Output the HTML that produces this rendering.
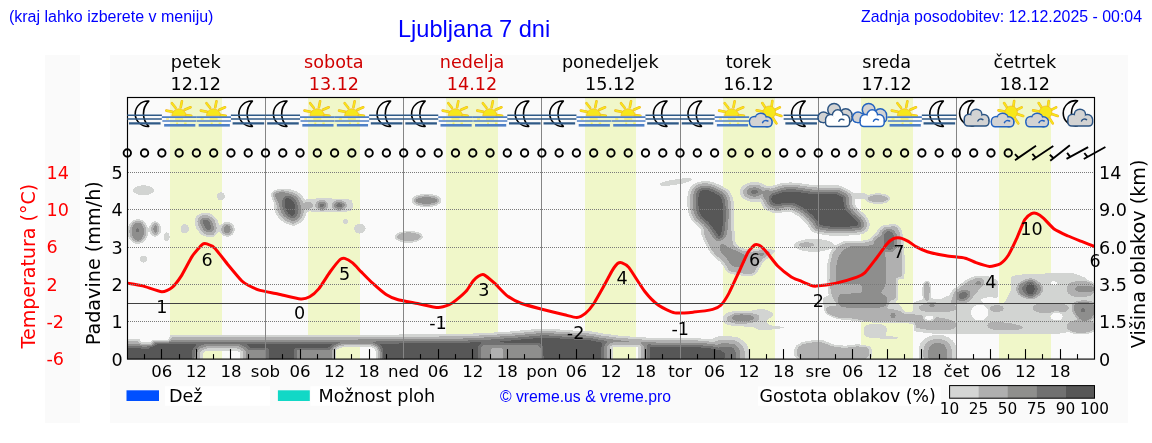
<!DOCTYPE html>
<html><head><meta charset="utf-8"><title>Ljubljana 7 dni</title>
<style>
html,body{margin:0;padding:0;background:#fff;}
body{width:1152px;height:443px;overflow:hidden;position:relative;}
.t{position:absolute;white-space:nowrap;color:#0000ff;font-family:'Liberation Sans',Arial,sans-serif;line-height:1;}
svg{position:absolute;left:0;top:0;}
</style></head><body>
<svg width="1152" height="443" viewBox="0 0 1152 443">
<rect x="45" y="55" width="35" height="368" fill="#fafafa"/>
<rect x="110" y="55" width="1018" height="368" fill="#fafafa"/>
<rect x="170" y="97.5" width="52" height="261.6" fill="#f0f7c9"/>
<rect x="308" y="97.5" width="52" height="261.6" fill="#f0f7c9"/>
<rect x="446" y="97.5" width="52" height="261.6" fill="#f0f7c9"/>
<rect x="585" y="97.5" width="51" height="261.6" fill="#f0f7c9"/>
<rect x="723" y="97.5" width="52" height="261.6" fill="#f0f7c9"/>
<rect x="861" y="97.5" width="52" height="261.6" fill="#f0f7c9"/>
<rect x="999" y="97.5" width="52" height="261.6" fill="#f0f7c9"/>
<defs><clipPath id="cc"><rect x="127.5" y="97.5" width="967" height="261.6"/></clipPath></defs><g clip-path="url(#cc)" shape-rendering="crispEdges"><path fill-rule="evenodd" fill="#d2d4d2" d="M665.3 186.0L660.7 185.6L659.8 185.0L659.6 184.3L660.4 183.3L662.3 182.4L668.7 180.5L671.2 180.0L683.3 178.3L689.7 178.3L691.3 178.7L692.1 179.3L691.8 180.3L690.3 181.2L682.7 183.6L669.7 185.6L665.3 186.0ZM750.7 276.4L747.7 276.4L735.0 274.7L730.0 273.4L727.7 272.3L725.5 270.3L723.4 266.0L721.7 263.7L719.1 261.0L713.7 256.7L709.9 252.0L707.8 248.7L705.9 245.3L701.5 235.0L700.7 232.7L700.8 230.0L700.5 229.0L699.1 227.3L693.7 222.7L692.2 221.0L689.5 216.3L688.0 212.0L687.1 202.7L687.2 198.0L688.0 192.7L688.8 190.0L690.0 187.9L692.3 185.4L694.3 183.8L698.3 182.0L702.7 181.2L706.7 181.1L711.3 181.7L717.0 183.7L723.3 186.8L727.7 189.5L729.7 191.7L732.5 197.3L733.7 202.0L734.2 211.3L734.2 217.0L733.6 228.7L734.7 232.0L734.5 236.3L735.4 241.7L736.2 244.0L738.0 245.8L739.3 246.8L742.7 248.3L746.0 249.1L751.3 249.5L759.0 248.3L763.0 248.2L772.7 249.6L774.0 250.0L774.7 250.7L774.6 251.7L774.0 252.6L770.9 255.0L768.4 258.0L765.0 260.2L763.2 262.3L756.0 274.1L754.0 275.3L750.7 276.4ZM852.0 235.3L848.3 235.6L829.3 235.6L817.7 233.8L814.7 233.0L812.3 231.7L810.7 230.3L807.4 225.0L804.3 221.4L800.7 218.1L797.4 215.7L792.5 212.7L790.0 211.8L787.7 211.6L785.3 211.8L778.0 213.2L775.7 213.2L773.3 212.8L767.7 210.8L765.0 209.2L763.3 207.3L760.7 202.7L760.0 201.9L759.0 201.6L755.3 202.1L752.3 202.0L748.3 201.2L745.0 199.7L742.2 197.7L740.6 195.3L739.9 192.3L740.3 189.3L742.2 186.3L745.0 184.3L748.3 182.8L752.7 181.9L755.7 181.9L759.7 182.6L762.3 183.6L766.0 185.7L770.7 186.3L781.0 183.3L789.7 182.4L797.0 182.8L812.3 185.0L818.3 185.4L838.7 185.5L842.0 186.5L849.0 189.9L850.7 191.0L853.7 193.4L858.0 193.0L862.3 193.0L864.7 193.5L868.3 194.9L873.3 193.6L878.7 193.2L882.3 193.6L885.0 194.2L887.6 195.3L889.1 196.3L890.0 197.5L890.3 198.7L889.9 200.0L889.0 201.1L886.0 202.8L880.0 204.1L875.0 204.1L869.3 202.7L867.0 201.3L865.0 199.0L864.3 198.6L856.0 198.7L855.0 199.0L854.6 200.0L854.6 202.0L855.4 205.3L856.3 206.6L859.3 209.7L865.0 214.7L866.9 217.0L868.4 219.3L869.2 221.3L869.5 223.3L869.5 226.0L869.1 228.0L868.1 230.0L866.6 231.7L864.7 233.0L862.7 233.9L860.7 234.4L852.0 235.3ZM143.3 195.3L138.4 194.7L135.0 193.1L133.6 192.0L132.9 191.0L132.8 190.0L133.2 189.0L134.3 187.8L136.3 186.7L139.7 185.7L142.3 185.3L146.0 185.4L149.7 186.3L151.9 187.3L153.4 188.7L153.9 190.0L153.8 191.0L153.3 192.0L152.0 193.1L148.0 194.8L143.3 195.3ZM294.3 225.7L293.3 225.8L292.0 225.6L287.3 224.1L284.3 222.7L280.7 220.0L278.4 217.7L277.0 215.6L275.3 212.3L274.4 210.0L273.9 207.3L273.6 202.7L271.9 198.3L271.3 196.0L271.2 194.3L271.5 193.0L272.3 191.9L273.7 190.9L276.3 189.6L281.3 188.8L288.7 189.1L293.0 189.9L296.4 191.3L299.5 193.3L302.6 196.3L304.3 199.0L305.3 199.6L319.7 198.2L329.0 198.3L332.7 198.6L340.3 198.5L346.7 199.1L350.2 199.7L351.4 200.3L352.3 201.9L353.0 205.0L352.7 207.7L351.7 210.0L351.0 210.7L350.0 211.0L346.7 211.6L340.3 212.2L332.3 212.0L323.0 212.4L318.3 212.4L309.7 211.4L307.3 211.7L306.7 212.3L305.2 217.3L303.0 220.6L300.0 223.2L294.3 225.7ZM221.7 200.4L220.3 200.5L218.7 199.8L217.6 198.7L217.0 197.3L217.0 195.3L217.6 194.0L218.7 192.9L220.3 192.2L221.7 192.2L223.2 193.0L224.3 194.3L224.7 195.7L224.7 197.3L224.1 198.7L223.0 199.8L221.7 200.4ZM428.3 207.4L424.3 207.4L418.0 206.2L415.7 205.3L413.3 203.9L412.0 202.3L411.5 200.7L411.8 199.0L413.4 197.0L416.7 195.2L420.3 194.4L426.0 193.5L428.7 193.7L435.7 195.0L438.7 196.5L440.7 198.3L441.4 199.7L441.4 201.3L440.7 202.7L439.3 204.0L435.7 206.0L428.3 207.4ZM212.7 237.1L210.7 237.3L207.0 236.9L203.3 235.9L201.8 235.0L200.3 233.7L197.3 230.0L196.0 227.7L195.2 225.7L194.7 223.3L194.6 221.0L194.8 219.3L195.5 217.7L196.7 216.0L198.0 214.9L200.3 213.7L203.0 213.1L207.0 213.0L209.7 213.4L213.0 215.2L216.0 218.0L217.5 220.3L219.0 224.4L219.7 225.3L224.0 222.6L227.0 221.9L229.3 222.2L230.7 222.7L232.3 223.8L233.5 225.3L234.7 228.3L234.6 230.7L233.1 234.0L231.0 235.8L229.7 236.4L227.7 236.7L224.7 236.4L222.0 234.9L219.7 232.3L219.0 232.0L215.3 235.7L212.7 237.1ZM346.3 224.1L345.3 224.3L344.2 224.0L343.4 223.3L342.8 222.3L342.7 221.3L343.0 220.2L343.7 219.3L344.7 218.7L345.7 218.6L346.7 219.0L347.4 219.7L347.8 220.7L348.0 221.7L347.7 222.7L347.0 223.7L346.3 224.1ZM140.0 243.7L136.0 243.8L133.0 242.5L130.3 240.0L128.5 236.7L127.5 232.7L127.5 229.0L128.5 226.0L130.9 222.3L133.3 220.3L136.3 219.4L138.3 219.2L141.3 219.9L143.0 220.7L144.7 222.2L146.0 224.0L148.0 227.4L148.7 227.9L151.3 223.3L153.3 221.8L154.7 221.3L156.0 221.4L158.7 222.9L160.3 225.0L161.1 227.7L161.0 231.3L160.4 233.0L159.5 234.3L158.0 235.7L156.7 236.4L155.3 236.7L154.3 236.6L152.9 236.0L151.7 235.1L149.0 231.5L148.7 231.7L147.2 236.7L145.4 240.0L143.0 242.3L140.0 243.7ZM361.3 233.4L359.3 233.6L357.0 232.9L355.3 231.7L354.3 230.0L354.1 228.3L354.7 226.3L356.0 225.0L358.0 223.9L360.0 223.7L362.0 224.1L364.1 225.3L365.3 227.1L365.6 229.0L365.0 230.9L363.7 232.3L361.3 233.4ZM185.7 233.4L184.0 233.5L182.3 232.7L181.1 231.3L180.5 229.7L180.5 228.0L181.3 226.0L182.3 224.9L184.0 224.2L185.7 224.2L187.0 224.9L188.0 226.0L188.7 227.7L188.8 229.7L188.3 231.1L187.3 232.5L185.7 233.4ZM1084.7 334.4L1077.0 334.4L1072.0 333.4L1069.0 332.3L1067.7 332.1L1057.3 334.1L956.7 334.1L952.0 333.8L943.3 334.2L935.3 334.1L931.1 333.3L924.0 332.7L917.0 331.7L915.0 331.2L914.3 330.7L913.9 330.0L913.6 324.7L913.2 324.0L912.3 323.6L881.0 322.6L874.3 322.8L870.3 322.2L862.3 322.0L848.0 320.1L842.7 319.8L837.7 319.0L833.0 317.6L827.7 315.1L824.9 312.3L824.1 310.0L823.9 307.3L822.9 301.3L823.1 299.3L823.7 298.0L825.0 297.0L828.1 295.7L828.6 295.0L826.9 281.3L826.9 265.7L829.6 254.0L831.7 250.0L831.9 249.0L831.3 248.9L824.0 250.9L818.7 251.7L809.0 251.7L804.0 250.9L799.7 249.9L797.7 249.2L796.0 248.2L794.6 247.0L794.1 246.0L794.1 244.7L794.6 243.7L795.7 242.7L798.9 241.0L804.2 239.7L809.7 238.9L818.0 238.9L824.3 239.8L828.3 240.9L830.7 241.9L832.4 243.0L834.7 245.3L843.7 241.4L845.3 240.9L859.0 240.8L865.0 240.3L868.0 239.6L869.3 239.0L872.8 235.3L876.0 232.7L877.7 229.8L878.9 228.3L882.7 225.6L885.3 224.8L892.3 224.2L895.7 224.3L897.7 225.0L899.6 226.7L901.2 229.3L902.2 232.0L903.1 236.3L904.1 247.3L904.5 255.0L904.5 274.3L904.1 277.7L903.7 278.6L902.7 279.0L899.3 279.3L898.7 279.7L898.3 280.3L898.1 299.0L897.5 300.3L895.5 302.0L895.8 302.7L898.7 304.0L900.3 305.2L903.7 310.8L904.7 311.6L905.7 311.8L911.3 311.9L912.7 311.3L913.2 310.0L913.2 304.3L913.7 303.0L914.7 302.2L917.0 301.0L921.7 299.5L922.5 299.0L922.7 297.7L922.4 294.3L922.4 288.3L922.9 284.7L923.3 283.1L924.0 282.0L925.0 281.2L926.0 280.8L927.3 280.7L928.7 281.2L929.9 282.3L930.6 283.7L931.3 288.3L931.3 293.0L930.8 295.7L931.2 297.7L932.0 298.3L937.7 299.3L941.7 298.5L944.7 296.9L948.7 295.5L949.9 294.3L952.0 290.7L954.0 288.8L957.7 286.4L964.4 281.0L968.0 279.0L972.3 277.1L975.3 276.0L977.3 275.7L982.7 275.6L987.7 276.1L992.6 277.7L997.0 280.2L997.9 281.3L998.0 295.3L997.7 297.3L996.7 297.9L991.7 297.4L987.7 297.4L984.7 297.8L982.2 298.7L981.5 299.3L981.2 300.3L981.8 301.7L983.3 302.5L987.0 303.2L990.7 303.4L997.3 302.6L1003.3 302.7L1004.9 302.0L1010.8 290.0L1011.2 277.7L1012.0 276.6L1014.1 275.7L1020.0 274.6L1049.7 273.3L1072.0 273.2L1074.7 273.6L1083.3 276.8L1084.7 277.6L1086.8 279.7L1090.7 280.9L1093.0 282.2L1097.3 286.1L1098.2 287.3L1098.5 288.3L1098.2 290.7L1095.0 294.3L1094.5 296.0L1094.7 300.7L1097.2 303.7L1098.2 305.7L1098.6 307.3L1098.6 310.7L1098.0 313.0L1096.4 316.7L1094.1 320.3L1094.2 321.0L1096.6 324.3L1096.8 326.0L1096.7 328.0L1095.2 330.3L1093.0 332.0L1090.0 333.4L1084.7 334.4ZM412.3 242.7L405.3 242.7L402.0 242.1L398.7 240.9L396.6 239.7L395.3 238.3L394.9 237.0L395.2 235.3L396.3 233.9L399.0 232.3L404.0 231.2L408.3 230.5L410.7 230.6L418.0 232.1L420.0 233.0L421.7 234.3L422.5 235.7L422.7 237.0L422.3 238.2L421.4 239.3L418.7 241.0L415.3 242.1L412.3 242.7ZM167.0 241.4L165.9 241.3L164.9 240.7L164.0 239.0L163.7 237.3L163.7 235.7L164.5 233.7L165.3 232.7L166.3 232.2L167.3 232.4L168.5 233.3L169.3 234.7L169.7 236.3L169.6 238.0L169.0 239.6L168.0 240.9L167.0 241.4ZM144.7 262.4L143.3 262.6L142.0 262.4L140.8 261.7L140.0 260.6L139.7 259.3L139.9 258.0L140.7 256.8L141.8 256.0L143.3 255.7L145.0 255.9L146.0 256.7L147.0 258.0L147.2 259.3L147.0 260.3L146.0 261.6L144.7 262.4ZM1055.6 285.0L1056.5 284.3L1056.9 283.3L1056.6 282.3L1055.9 281.7L1054.7 281.2L1053.3 281.2L1052.3 281.5L1051.4 282.3L1051.2 283.7L1052.0 284.8L1053.7 285.3L1055.6 285.0ZM981.5 320.3L984.3 319.3L987.3 316.3L988.2 314.0L988.0 310.3L987.4 309.0L986.1 307.3L983.3 305.3L981.0 304.6L977.0 304.9L973.7 306.7L971.8 309.0L971.1 311.0L971.3 314.9L972.7 317.3L975.3 319.5L978.3 320.4L981.5 320.3ZM765.7 330.3L762.3 330.5L760.0 330.3L758.3 329.7L755.3 327.8L751.3 326.9L736.0 326.1L731.7 325.7L728.3 324.9L725.7 323.7L723.7 322.0L722.7 320.0L722.8 317.7L724.0 315.1L725.6 313.7L728.0 312.6L732.3 311.4L738.3 310.9L750.0 310.8L753.0 310.4L755.7 309.7L760.0 308.9L762.3 309.0L765.7 309.7L768.6 310.7L771.7 312.2L773.1 313.3L773.5 314.3L773.3 315.2L772.7 316.0L768.6 319.0L767.5 320.3L767.0 322.0L767.7 323.7L769.7 324.8L773.7 326.0L783.0 326.8L784.0 327.0L784.3 327.3L782.8 328.0L779.7 328.6L776.0 328.9L765.7 330.3ZM1057.7 320.3L1060.7 319.5L1062.3 318.0L1062.7 317.0L1062.6 316.0L1062.2 315.0L1061.4 314.3L1058.7 313.0L1055.0 312.9L1052.6 313.7L1050.6 315.3L1050.3 316.3L1050.4 317.3L1051.7 319.1L1054.7 320.3L1057.7 320.3ZM931.1 319.7L932.5 319.0L933.2 318.0L933.2 317.0L932.0 315.9L930.3 315.5L927.7 315.5L926.2 316.0L925.2 317.0L925.1 318.3L926.3 319.4L928.7 320.0L931.1 319.7ZM897.0 338.8L881.7 338.9L879.0 338.1L873.3 338.3L867.0 337.0L865.1 335.7L864.0 333.7L863.6 330.7L864.2 327.7L865.0 326.2L866.7 325.1L869.0 324.4L873.7 323.6L875.7 323.6L880.0 324.1L883.0 324.9L884.7 325.6L885.5 326.3L886.9 329.3L886.9 331.3L885.6 334.7L885.7 335.7L886.3 336.1L887.7 336.4L897.0 336.6L897.6 337.0L897.8 337.7L897.6 338.3L897.0 338.8ZM742.0 371.7L725.3 371.9L711.6 371.7L711.0 370.7L709.7 369.4L708.7 369.0L707.3 369.0L688.0 370.7L679.0 370.7L675.0 371.2L666.3 371.3L664.6 371.7L662.3 371.7L208.0 371.8L180.7 371.7L179.3 371.3L170.3 371.2L166.3 370.7L157.3 370.7L118.0 367.2L117.7 359.7L117.9 342.7L118.0 341.0L124.7 339.3L128.3 339.0L139.0 339.1L140.0 339.7L140.7 341.7L141.7 342.4L150.0 342.5L151.0 342.1L152.0 340.3L153.0 339.9L168.3 339.6L169.1 339.0L169.9 335.7L170.7 335.2L171.7 335.0L357.3 335.0L363.0 334.7L395.3 334.7L400.7 334.4L436.7 334.4L441.7 334.0L461.7 334.0L492.3 332.7L502.7 331.8L507.7 331.7L539.3 328.7L550.0 328.7L575.7 330.7L582.7 330.7L587.7 331.1L592.3 331.5L602.3 333.4L619.0 335.6L636.3 337.0L655.7 338.0L696.0 338.1L710.3 339.2L711.8 339.0L715.7 337.2L718.7 336.4L728.7 336.2L735.7 336.9L738.0 337.6L740.3 338.7L743.3 340.8L745.3 342.8L746.7 344.7L748.3 348.0L749.0 350.3L749.5 353.3L749.5 358.7L749.1 361.0L748.0 364.0L746.6 366.7L742.0 371.7ZM946.7 371.7L928.4 371.7L923.9 368.3L920.5 364.3L919.5 362.0L918.5 358.0L918.5 349.3L919.5 345.7L920.5 343.3L923.2 340.0L925.6 338.0L930.0 336.1L934.0 334.8L938.3 334.6L942.0 334.9L948.0 337.2L950.0 338.2L952.4 340.3L954.8 343.3L956.0 346.0L956.9 350.3L956.9 357.3L956.1 361.3L955.0 364.0L952.7 367.1L950.7 369.0L946.7 371.7ZM842.7 365.0L823.7 365.1L808.7 363.4L800.3 360.9L798.0 359.8L794.3 356.0L793.9 354.3L794.0 349.7L796.5 345.3L800.7 342.8L803.3 341.8L812.3 340.2L821.0 340.2L823.7 340.5L825.3 340.9L828.0 342.3L832.3 344.0L835.3 344.7L838.7 345.1L845.7 345.7L854.0 344.8L859.0 343.7L859.7 343.8L860.7 345.0L861.4 345.3L868.3 345.6L869.6 346.0L870.3 346.7L872.0 350.3L872.1 355.7L871.3 357.0L867.4 360.3L865.3 361.2L857.3 363.3L842.7 365.0ZM375.3 366.3L375.9 365.7L376.1 364.7L376.0 351.8L374.6 349.0L373.7 348.3L371.5 347.3L368.7 346.8L345.0 346.9L339.3 348.2L336.6 350.0L335.7 351.3L335.5 364.7L335.7 365.7L336.4 366.3L340.0 366.6L373.3 366.6L375.3 366.3ZM636.5 367.0L637.9 366.3L638.3 365.0L638.4 349.3L638.1 348.0L637.7 347.4L635.7 346.9L615.7 346.9L614.0 347.1L613.1 347.7L612.6 349.3L612.6 364.3L612.8 365.7L613.3 366.6L615.3 367.1L636.5 367.0ZM238.5 367.0L239.7 366.6L240.3 365.3L240.3 354.0L240.1 353.0L239.7 352.3L237.1 351.0L234.7 350.6L208.7 350.6L207.0 350.9L204.7 351.8L203.7 352.3L203.2 353.0L203.0 354.7L203.0 365.0L203.2 366.0L204.0 366.8L206.0 367.1L238.5 367.0Z"/>
<path fill-rule="evenodd" fill="#b0b0b0" d="M750.7 274.1L748.3 274.2L736.0 272.6L731.7 271.6L729.3 270.5L727.8 269.0L725.8 265.0L724.2 262.7L721.0 259.4L715.9 255.3L712.4 251.0L710.3 247.9L708.6 244.7L704.0 234.0L703.5 232.0L703.8 229.7L703.6 228.7L701.4 226.0L694.8 220.0L692.3 216.0L690.9 212.0L689.9 203.3L690.0 198.3L690.5 194.0L691.2 191.3L692.2 189.3L694.0 187.3L696.0 185.7L699.3 184.1L703.0 183.4L706.7 183.3L710.7 183.9L715.7 185.7L721.8 188.7L725.5 191.0L727.4 193.0L730.0 198.3L730.9 202.7L731.4 217.0L730.7 229.3L731.9 232.3L731.9 237.0L732.6 241.7L733.5 244.7L735.0 246.5L738.0 248.8L741.7 250.5L743.3 250.9L748.3 251.6L752.0 251.6L759.3 250.5L762.3 250.4L768.3 251.3L769.8 252.0L769.6 252.7L766.7 256.1L763.3 258.4L760.5 261.7L754.0 272.4L752.7 273.3L750.7 274.1ZM849.3 233.4L829.3 233.3L818.3 231.6L816.0 231.0L814.1 230.0L812.7 228.7L809.9 224.0L806.7 220.1L802.0 216.0L798.3 213.3L795.1 211.3L792.3 210.1L789.7 209.4L785.7 209.5L779.0 210.8L776.7 211.0L774.0 210.6L769.3 209.0L767.3 207.9L765.8 206.3L762.3 199.7L761.3 198.5L760.3 198.4L755.7 199.4L753.7 199.5L749.0 198.5L745.6 196.7L744.3 195.3L743.4 193.7L743.1 192.0L743.5 190.3L744.9 188.0L747.3 186.3L750.0 185.2L754.3 184.5L759.3 185.4L764.3 187.9L768.0 188.1L771.0 188.6L781.3 185.6L789.0 184.7L796.7 185.1L812.0 187.2L818.3 187.6L836.7 187.6L838.7 187.8L840.7 188.5L848.0 192.1L850.3 194.1L851.1 195.3L851.6 196.7L851.8 203.0L853.0 206.7L857.4 211.3L863.4 216.7L865.7 220.0L866.6 222.3L866.7 225.7L866.3 227.7L865.0 229.7L863.3 231.0L860.0 232.2L849.3 233.4ZM294.0 223.8L293.3 224.0L292.3 223.8L285.3 220.5L282.0 217.8L279.5 214.7L277.4 210.3L276.7 207.7L276.4 203.7L273.9 198.3L273.2 196.0L273.1 194.7L273.3 193.7L274.0 192.8L275.0 192.1L277.4 191.0L282.7 190.3L292.3 192.1L295.7 193.7L298.7 195.9L300.7 198.2L303.3 202.7L304.0 202.7L307.0 201.8L309.0 201.7L311.3 202.5L312.8 204.0L313.1 205.3L312.9 206.3L312.3 207.3L311.0 208.3L308.3 209.0L305.0 208.5L304.3 208.7L303.8 209.7L303.3 214.7L301.7 218.2L299.0 220.9L295.5 222.7L294.0 223.8ZM426.7 206.0L419.3 204.9L416.3 203.8L414.7 202.7L413.8 201.7L413.5 200.7L413.8 199.3L415.0 198.0L417.7 196.6L426.3 195.0L435.0 196.5L437.7 197.9L439.2 199.3L439.5 200.3L439.2 201.7L438.3 202.7L436.3 203.9L433.7 204.9L426.7 206.0ZM880.0 202.4L875.7 202.4L870.7 201.2L868.3 199.9L867.7 199.0L867.7 198.3L868.7 197.2L871.2 196.0L873.8 195.3L877.7 195.0L881.7 195.3L884.0 195.9L886.7 197.0L887.8 198.0L888.0 198.7L887.8 199.3L886.2 200.7L884.3 201.4L880.0 202.4ZM323.0 210.7L320.7 210.7L318.6 210.0L316.5 208.3L315.4 206.7L315.2 205.0L315.7 203.3L317.3 201.5L319.3 200.3L322.0 199.9L325.0 200.5L327.1 202.0L328.3 204.0L328.5 206.0L327.4 208.3L325.3 210.0L323.0 210.7ZM340.0 210.7L337.3 210.5L335.3 209.9L333.0 208.3L331.9 206.7L331.7 205.0L332.2 203.3L333.5 202.0L335.7 200.6L339.0 200.0L342.3 200.4L345.3 202.1L346.8 204.0L347.0 205.0L346.9 206.3L345.7 208.3L343.0 210.0L340.0 210.7ZM212.3 235.4L210.3 235.4L206.3 234.5L204.3 233.7L202.2 232.0L199.8 229.0L198.0 225.3L197.4 221.7L197.6 220.0L198.0 218.7L199.7 216.7L201.3 215.8L203.3 215.3L208.0 215.4L209.7 216.0L211.3 217.0L214.3 220.0L215.3 222.1L216.2 225.0L216.5 227.0L216.5 229.3L216.0 231.0L214.6 233.3L213.5 234.7L212.3 235.4ZM138.7 242.3L135.7 242.0L134.0 241.2L132.6 240.0L131.4 238.3L130.2 236.0L129.4 232.0L129.4 230.0L130.0 227.7L132.0 223.7L134.3 221.7L137.7 220.8L141.0 221.5L142.3 222.3L143.3 223.3L145.5 227.0L146.3 231.0L146.2 233.0L145.7 235.3L144.0 238.8L141.7 241.2L140.0 242.0L138.7 242.3ZM156.3 234.7L154.7 234.9L153.1 234.0L151.9 232.0L151.1 229.3L151.3 227.7L152.6 224.7L153.7 223.5L155.0 223.0L156.4 223.3L158.0 224.7L158.9 226.3L159.3 228.0L159.2 230.3L158.8 232.0L157.7 233.7L156.3 234.7ZM228.3 235.0L226.0 235.1L224.0 234.2L222.6 233.0L221.5 230.7L221.4 228.3L222.4 226.0L223.7 224.7L226.0 223.6L228.3 223.6L230.6 224.7L231.8 226.0L232.8 228.7L232.8 230.3L231.6 233.0L230.1 234.3L228.3 235.0ZM949.0 330.1L934.0 330.1L925.0 329.4L917.3 328.1L916.3 327.8L915.7 327.0L915.4 324.0L914.9 323.0L914.0 322.3L913.0 322.0L862.7 320.5L854.3 318.8L848.0 318.1L842.7 318.0L838.7 317.6L833.0 316.0L829.0 314.0L827.1 312.3L826.2 311.0L826.0 309.3L826.7 307.8L827.7 307.0L830.3 306.1L835.7 305.6L836.2 305.3L836.4 304.7L835.7 302.3L833.3 299.1L831.0 292.7L829.5 280.7L829.6 265.7L832.2 255.0L833.3 252.7L837.4 247.0L839.0 246.0L844.3 243.6L847.0 243.0L859.7 243.0L865.0 242.6L870.3 241.3L871.6 240.7L874.8 237.0L878.3 234.2L880.6 230.3L883.9 227.7L886.0 227.0L893.0 226.3L895.0 226.5L896.3 227.1L897.9 228.7L899.2 231.3L900.1 234.7L900.8 239.7L901.8 255.7L901.8 274.7L901.4 276.0L901.0 276.6L897.3 277.7L896.3 278.6L895.8 279.7L895.7 296.7L895.4 298.3L894.3 299.3L890.7 300.6L889.8 301.3L888.7 304.7L887.2 307.3L887.2 308.0L888.3 308.5L893.3 309.4L899.7 311.0L901.0 311.6L903.0 313.3L904.3 313.8L912.7 314.1L922.3 315.6L923.2 316.3L923.2 318.3L923.9 319.7L925.3 320.8L927.3 321.4L930.0 321.5L932.7 320.8L934.2 319.7L935.6 317.7L936.3 317.3L941.0 317.7L949.3 319.6L952.9 321.0L954.3 321.9L956.0 323.7L956.4 325.3L956.0 326.9L954.3 328.4L949.0 330.1ZM412.3 241.0L406.7 241.2L402.3 240.4L399.5 239.3L398.0 238.4L397.1 237.3L397.0 236.3L397.9 235.0L399.7 233.9L403.3 233.0L408.7 232.1L417.3 233.7L419.0 234.4L420.3 235.7L420.6 236.7L420.5 237.3L419.3 238.7L417.3 239.7L412.3 241.0ZM808.0 247.3L804.7 247.3L800.7 246.4L798.9 245.7L798.4 244.7L799.0 244.0L800.5 243.3L804.0 242.4L806.3 242.3L808.7 242.4L812.3 243.3L813.7 244.0L814.2 244.7L814.1 245.3L813.0 246.1L808.0 247.3ZM942.3 312.0L934.3 312.1L925.0 311.5L921.7 310.7L920.3 310.0L919.1 308.7L919.0 307.3L919.5 306.3L921.0 305.2L925.7 303.9L928.0 302.1L929.3 301.8L934.0 301.8L938.3 303.4L944.3 303.8L950.3 303.7L950.8 303.0L951.1 300.7L952.4 297.3L953.1 294.3L954.3 292.0L955.7 290.6L959.3 288.2L964.8 283.7L969.3 281.0L976.3 278.1L978.7 277.8L980.7 278.0L982.3 278.6L983.2 279.3L984.3 282.7L984.2 284.0L983.7 285.0L980.3 288.0L976.3 293.3L973.3 296.4L971.6 299.0L970.0 300.7L967.7 302.1L965.0 303.1L955.7 304.5L955.2 305.0L956.3 307.0L956.4 308.3L955.7 309.5L954.0 310.6L949.0 311.7L942.3 312.0ZM1032.7 299.3L1029.0 299.5L1024.7 298.2L1021.0 296.7L1018.2 294.3L1016.8 292.0L1016.2 290.0L1016.1 288.7L1017.1 285.3L1019.0 282.8L1023.0 280.5L1027.0 278.9L1028.7 278.5L1031.3 278.4L1033.3 278.7L1035.3 279.6L1039.7 282.5L1040.8 283.7L1042.3 286.0L1043.0 287.7L1043.0 290.3L1042.2 292.3L1040.5 294.7L1038.7 296.2L1035.3 298.4L1032.7 299.3ZM1084.3 297.0L1078.3 297.1L1073.7 296.4L1071.7 295.8L1069.0 294.2L1067.6 292.3L1066.9 290.0L1067.0 287.0L1068.3 284.5L1069.7 283.3L1072.0 282.1L1079.0 280.8L1083.7 280.9L1088.9 282.0L1090.6 282.7L1092.7 283.9L1096.4 287.7L1096.7 289.3L1096.2 290.7L1092.7 294.1L1090.7 295.5L1089.0 296.1L1084.3 297.0ZM927.7 301.1L926.3 301.0L925.1 299.7L924.5 297.7L924.0 294.3L924.0 288.3L924.5 284.7L925.3 282.9L926.7 282.2L927.7 282.4L928.7 283.4L929.2 285.0L929.7 288.3L929.6 292.3L928.9 295.3L929.1 298.3L928.5 300.0L927.7 301.1ZM1085.3 332.7L1083.0 333.0L1078.3 333.0L1072.3 331.9L1068.5 330.0L1067.6 329.0L1067.0 327.7L1067.1 324.7L1068.7 322.4L1071.7 320.8L1076.0 320.1L1077.0 319.3L1076.8 318.3L1073.9 314.3L1072.5 311.7L1071.9 309.3L1071.8 307.0L1072.1 305.0L1073.3 303.0L1075.0 301.8L1077.3 300.9L1082.3 300.4L1086.0 300.4L1091.3 301.2L1092.7 301.8L1095.0 303.6L1096.6 306.7L1096.8 310.3L1096.1 313.0L1094.3 316.7L1091.3 320.7L1091.5 321.3L1093.5 323.0L1094.7 324.7L1095.0 326.3L1094.7 328.0L1093.3 329.9L1091.5 331.0L1089.3 331.9L1085.3 332.7ZM1049.3 313.4L1047.3 313.5L1040.0 312.7L1035.3 311.4L1034.0 310.5L1033.2 309.3L1032.9 308.0L1033.2 306.7L1033.9 305.7L1035.0 304.8L1039.7 303.3L1047.7 302.9L1053.3 302.8L1062.3 303.4L1066.3 304.8L1068.0 306.0L1068.6 307.0L1068.8 308.3L1068.3 309.6L1066.7 311.0L1065.3 311.7L1062.3 312.4L1058.7 311.3L1054.3 311.3L1052.7 311.8L1049.3 313.4ZM998.3 312.0L995.3 312.1L991.3 310.9L990.4 310.0L990.0 309.0L990.0 308.0L990.4 307.0L991.0 306.3L992.3 305.7L996.3 305.2L1000.7 305.6L1002.7 306.5L1003.4 307.3L1003.7 308.3L1003.2 310.0L1001.7 311.1L998.3 312.0ZM746.3 323.7L736.7 323.8L732.3 323.0L729.3 322.1L727.7 321.2L726.6 320.0L726.6 318.7L727.0 317.7L727.9 316.7L731.3 314.6L734.7 313.4L739.3 312.7L744.3 312.6L752.3 313.3L757.3 314.7L758.4 315.3L759.3 316.3L759.5 317.7L759.0 319.0L758.0 320.3L756.7 321.3L754.0 322.3L746.3 323.7ZM1008.7 330.4L1002.7 330.5L996.3 330.1L991.7 329.2L989.7 328.4L988.3 327.4L987.5 326.0L987.4 324.7L988.3 323.3L990.3 322.5L995.3 321.9L997.7 321.9L1009.7 323.1L1020.0 325.4L1021.7 326.1L1022.5 327.0L1022.5 327.7L1022.0 328.3L1019.0 329.7L1008.7 330.4ZM733.7 371.7L719.8 371.7L719.1 371.0L715.7 369.2L712.7 366.8L710.7 366.4L687.7 368.4L678.7 368.4L675.0 368.7L666.0 368.7L649.0 369.4L643.0 369.4L641.0 369.1L640.4 368.7L640.4 368.3L641.0 366.7L641.2 365.0L641.1 347.7L640.5 346.3L639.7 345.5L638.3 344.9L636.7 344.7L614.3 344.7L612.3 345.0L610.8 346.0L610.1 347.0L609.8 348.7L609.8 364.7L610.3 367.3L612.1 369.7L611.0 370.2L607.7 370.4L587.3 370.5L583.0 370.8L559.0 370.9L553.7 371.5L496.0 371.7L318.0 371.7L291.3 371.5L286.3 370.9L262.3 370.8L258.0 370.5L243.0 370.3L241.2 370.0L240.8 369.7L242.5 367.7L243.1 366.0L243.2 354.0L242.9 352.0L242.0 350.8L240.3 349.8L237.3 348.6L235.0 348.3L208.0 348.3L205.7 348.8L202.0 350.3L200.6 351.7L200.2 353.3L200.2 365.3L200.9 368.3L200.7 368.9L200.0 369.2L196.0 369.4L192.0 369.1L157.0 368.3L118.0 364.9L118.0 344.7L118.0 343.7L124.0 341.8L127.3 341.3L137.7 341.3L138.6 341.7L139.7 343.0L141.0 343.6L150.7 343.7L152.0 343.2L153.3 341.3L154.3 341.0L169.0 340.7L170.1 340.0L171.2 337.7L172.7 337.3L357.7 337.3L363.0 337.0L395.7 336.9L400.7 336.6L437.0 336.6L442.0 336.3L462.0 336.3L492.7 334.9L503.0 334.0L508.0 333.9L531.0 331.9L538.3 331.0L549.7 331.0L575.3 332.9L582.3 333.0L587.7 333.4L592.0 333.8L601.7 335.6L618.3 337.8L648.0 339.9L656.3 340.3L696.0 340.3L713.7 341.9L715.0 341.6L718.3 340.3L720.7 339.9L728.3 339.8L734.7 340.4L737.0 341.2L739.0 342.5L741.2 344.3L742.7 346.3L743.9 349.0L744.7 351.7L745.0 354.0L745.0 358.3L744.8 360.0L744.1 362.0L742.0 365.8L738.3 369.0L733.7 371.7ZM938.0 369.0L933.6 368.7L930.0 367.2L928.0 366.0L926.4 364.3L924.7 362.0L923.4 357.0L923.4 350.3L924.2 347.0L925.1 345.0L927.0 342.6L928.7 341.2L932.7 339.6L935.0 339.1L941.3 339.2L945.3 340.6L947.0 341.4L948.7 343.0L950.6 345.7L951.9 350.7L951.9 357.7L951.0 361.1L950.0 363.0L947.7 365.7L945.7 367.0L941.7 368.7L938.0 369.0ZM840.7 363.0L824.8 363.0L808.4 361.0L801.0 358.7L799.3 357.7L797.4 355.7L796.7 354.7L796.5 353.0L796.7 350.3L798.7 346.8L802.3 344.5L805.3 343.7L813.7 342.3L820.7 342.3L823.4 342.7L831.0 345.8L835.3 346.9L845.3 347.9L858.3 346.2L861.0 347.0L867.0 347.3L868.0 348.0L868.7 349.1L869.4 351.3L869.3 355.0L868.0 356.7L865.4 358.7L856.3 361.2L840.7 363.0ZM376.0 368.0L377.3 367.2L378.0 365.7L378.0 352.0L377.5 350.3L376.5 348.3L375.5 347.3L374.0 346.6L371.0 345.4L369.3 345.2L345.0 345.2L338.7 346.6L335.1 349.0L334.0 350.3L333.6 352.3L333.7 365.3L334.2 367.0L335.3 367.9L338.3 368.2L373.7 368.2L376.0 368.0Z"/>
<path fill-rule="evenodd" fill="#8e8e8d" d="M720.3 241.0L718.7 241.1L717.0 240.8L715.7 240.2L714.3 239.1L706.3 227.6L703.7 224.6L697.3 219.0L695.5 216.3L694.2 213.7L693.5 210.7L692.8 203.7L692.8 198.7L693.4 194.0L694.2 191.3L695.3 189.6L697.4 187.7L700.0 186.3L703.7 185.6L706.7 185.6L710.3 186.2L715.0 187.9L720.5 190.7L724.0 193.0L725.3 194.7L727.2 198.7L728.2 203.3L728.6 212.0L728.6 218.0L727.8 228.7L726.6 234.7L725.5 237.3L723.3 239.7L720.3 241.0ZM850.0 231.0L829.7 231.1L817.3 229.0L816.0 228.3L815.0 227.3L812.5 223.0L808.8 218.7L803.4 214.0L799.8 211.3L796.3 209.3L793.7 208.1L790.3 207.2L785.3 207.2L777.0 208.8L775.0 208.5L771.3 207.3L769.4 206.3L768.1 205.0L764.3 198.3L762.3 194.0L761.7 194.0L759.3 195.5L757.7 196.2L754.7 196.7L752.7 196.5L750.0 195.8L747.7 194.3L746.7 192.7L746.9 191.0L747.7 189.7L749.3 188.5L751.0 187.8L753.7 187.3L756.0 187.5L759.0 188.3L760.7 189.4L762.7 191.6L765.3 190.3L766.7 190.0L771.7 191.0L782.0 187.8L789.0 186.9L796.3 187.3L811.7 189.5L818.0 189.8L836.3 189.9L839.3 190.4L846.0 193.7L848.0 195.3L848.8 197.3L849.1 203.7L850.4 207.7L855.5 213.0L861.0 217.9L862.8 220.3L863.7 222.3L863.9 224.7L863.7 226.7L863.0 228.0L861.7 229.2L859.3 230.0L850.0 231.0ZM293.0 221.4L292.3 221.3L288.7 219.6L286.3 218.2L283.7 215.8L282.0 213.6L280.0 209.3L279.0 204.0L276.3 198.9L275.5 196.7L275.3 194.7L275.6 194.0L276.5 193.3L278.7 192.5L283.0 192.0L291.3 194.2L293.3 195.1L295.3 196.3L297.3 198.2L298.5 199.7L299.9 202.7L300.5 205.3L300.9 209.3L300.6 214.0L299.7 216.3L298.1 218.3L296.7 219.5L293.0 221.4ZM428.3 204.0L425.7 204.2L418.7 202.9L416.3 201.6L415.8 200.7L415.9 200.0L416.9 199.0L419.0 198.0L426.3 196.7L434.0 198.0L436.0 199.0L437.0 200.0L437.1 200.7L436.8 201.3L435.0 202.6L433.0 203.2L428.3 204.0ZM322.3 209.0L320.7 208.9L319.4 208.3L318.2 207.3L317.5 206.0L317.5 204.7L318.2 203.3L319.4 202.3L321.0 201.7L322.7 201.7L324.3 202.3L325.7 203.4L326.4 205.0L326.2 206.3L325.3 207.6L324.0 208.6L322.3 209.0ZM340.3 209.0L337.3 208.8L334.9 207.3L333.8 205.7L333.9 204.7L334.5 203.7L336.7 202.2L339.0 201.6L341.6 202.0L343.8 203.3L344.9 205.0L344.4 206.7L342.3 208.3L340.3 209.0ZM211.0 232.3L208.3 232.5L206.0 231.9L204.3 230.5L202.3 228.0L200.9 225.3L200.2 222.3L200.5 220.0L201.7 218.3L204.0 217.5L207.3 217.6L209.4 218.7L211.7 221.0L213.0 224.0L213.7 226.7L213.8 228.3L213.5 229.7L213.0 230.7L212.0 231.8L211.0 232.3ZM139.3 240.4L138.0 240.6L136.7 240.5L135.6 240.0L134.3 239.0L132.3 235.8L131.5 232.3L131.5 230.7L131.9 228.3L133.3 225.3L135.0 223.4L137.3 222.6L139.9 223.0L141.6 224.3L143.4 227.3L144.2 230.7L144.0 233.6L143.0 236.5L141.3 239.0L139.3 240.4ZM155.7 232.7L155.0 232.7L154.3 232.3L153.7 231.0L153.2 229.3L153.4 228.0L154.0 226.3L154.7 225.4L155.3 225.2L156.0 225.5L156.6 226.3L157.2 228.7L156.8 231.3L155.7 232.7ZM227.3 233.4L226.0 233.2L224.7 232.3L223.8 231.0L223.5 229.7L223.7 228.0L224.4 226.7L225.6 225.7L227.0 225.3L228.3 225.5L229.5 226.3L230.3 227.7L230.7 229.3L230.3 231.0L229.7 232.2L228.7 233.0L227.3 233.4ZM873.7 308.4L851.7 308.4L842.7 307.1L840.7 306.4L839.7 305.7L838.4 303.0L837.9 300.3L837.9 298.3L838.2 297.0L840.3 294.2L841.0 293.8L842.3 293.6L860.7 293.4L861.3 293.0L861.7 292.0L861.7 286.3L861.3 285.0L860.0 284.4L839.0 284.4L837.0 284.0L836.3 283.0L835.9 281.0L835.8 268.7L836.1 266.3L838.3 257.0L842.3 250.9L843.7 249.5L849.3 246.8L851.0 246.2L865.3 246.1L872.0 245.0L873.5 244.0L874.7 241.0L876.2 239.0L878.3 237.2L881.0 236.0L882.2 232.7L883.9 230.7L885.3 229.7L886.7 229.2L891.0 229.2L893.0 230.0L894.7 231.2L896.5 234.3L896.8 236.3L896.8 244.3L896.0 248.0L895.0 249.7L893.7 251.1L892.3 251.8L890.3 252.2L886.0 251.9L885.4 252.3L885.2 253.0L885.8 261.3L885.5 265.0L885.5 271.7L886.4 277.3L886.4 280.0L886.0 282.7L885.0 285.7L881.2 293.0L881.7 293.8L884.7 295.1L887.1 297.0L887.5 299.0L887.0 302.7L886.0 305.1L884.3 306.5L880.7 307.4L873.7 308.4ZM738.7 267.4L735.7 267.3L733.7 266.5L732.3 265.6L729.3 262.3L726.3 258.2L721.6 253.0L720.3 250.7L719.7 248.0L719.8 246.0L720.7 244.6L722.0 244.2L724.0 244.6L730.5 248.3L738.0 251.4L742.1 253.3L744.7 255.3L745.5 256.7L745.8 258.3L745.5 260.7L744.8 262.7L743.7 264.3L742.3 265.7L740.7 266.7L738.7 267.4ZM762.3 255.7L760.3 255.7L759.1 255.3L758.4 254.7L758.3 253.7L759.1 253.0L760.3 252.6L762.3 252.6L763.6 253.0L764.4 253.7L764.3 254.6L763.5 255.3L762.3 255.7ZM1032.0 297.7L1029.3 297.8L1025.6 296.7L1022.3 295.3L1019.9 293.3L1018.7 291.2L1018.2 288.7L1019.1 286.0L1020.6 284.0L1024.0 282.0L1027.3 280.6L1029.0 280.2L1031.0 280.2L1032.7 280.4L1034.3 281.1L1039.1 284.7L1040.4 286.7L1041.0 288.3L1040.9 290.0L1040.3 291.7L1039.0 293.5L1037.3 294.9L1034.0 297.0L1032.0 297.7ZM979.3 285.1L977.3 285.1L976.0 284.5L975.3 283.3L975.7 282.1L976.7 281.4L978.0 281.1L979.3 281.2L980.7 281.8L981.3 282.7L981.3 283.7L980.7 284.5L979.3 285.1ZM1087.3 292.4L1083.3 292.4L1077.3 291.3L1076.0 290.7L1075.4 290.0L1075.1 289.3L1075.2 288.3L1076.3 287.0L1078.7 286.0L1085.0 285.5L1091.3 286.1L1093.3 287.0L1094.7 288.3L1094.7 289.7L1093.3 290.9L1091.3 291.6L1087.3 292.4ZM963.3 301.0L960.3 301.1L958.9 300.7L957.7 299.9L955.9 297.7L955.6 296.3L955.8 295.0L957.2 292.7L960.0 290.7L963.0 289.7L965.0 289.5L966.7 289.7L968.7 290.7L970.0 292.0L970.5 293.7L970.3 295.7L969.5 297.3L968.0 299.0L966.0 300.2L963.3 301.0ZM1086.3 320.7L1083.0 320.8L1081.0 319.9L1079.0 318.2L1075.5 313.3L1074.1 310.3L1073.6 307.0L1074.2 305.0L1075.7 303.5L1078.3 302.4L1083.0 302.0L1086.3 302.1L1091.3 303.0L1092.9 304.0L1094.0 305.2L1094.9 307.3L1095.0 309.7L1094.7 311.7L1093.7 314.2L1092.3 316.6L1091.0 318.2L1088.3 320.0L1086.3 320.7ZM933.3 306.7L932.0 306.9L930.3 306.7L929.3 306.0L929.2 305.0L929.8 304.3L930.7 304.0L932.3 303.9L933.7 304.2L934.3 304.7L934.6 305.3L934.3 306.0L933.3 306.7ZM893.3 318.4L892.3 318.3L891.3 317.8L890.4 316.0L890.5 315.0L891.0 314.0L891.7 313.3L892.7 313.0L893.7 313.0L894.7 313.5L895.3 314.3L895.7 315.3L895.6 316.3L895.1 317.3L894.3 318.1L893.3 318.4ZM744.3 321.3L740.0 321.4L734.7 320.5L732.7 319.3L732.1 318.3L732.1 317.3L733.0 316.2L735.0 315.2L741.3 314.3L751.7 315.6L753.2 316.3L754.0 317.3L754.1 318.3L753.8 319.0L752.3 320.0L749.7 320.7L744.3 321.3ZM498.3 369.3L380.0 369.3L379.3 369.1L379.1 368.7L379.8 365.0L379.8 352.7L379.4 350.3L378.1 347.7L376.7 346.2L372.3 344.3L370.0 343.8L345.0 343.7L339.0 344.9L336.7 345.9L333.3 348.3L332.0 350.3L331.7 352.3L331.7 364.7L332.3 368.3L331.7 368.9L329.7 369.1L319.3 369.1L315.0 368.8L291.0 368.8L286.7 368.5L262.3 368.5L258.7 368.1L247.0 368.0L246.3 367.6L246.0 366.7L246.0 353.7L245.5 351.0L244.2 349.3L242.3 348.1L238.3 346.4L235.7 346.1L207.7 346.1L205.0 346.6L200.6 348.3L198.5 350.0L197.5 352.0L197.3 365.7L196.8 366.7L196.0 367.0L157.7 366.1L118.0 362.6L118.0 346.6L121.7 344.9L125.3 343.8L127.3 343.5L137.0 343.5L140.3 344.6L143.0 344.9L151.0 344.7L152.7 344.2L154.3 342.3L155.3 341.8L169.0 341.6L170.3 341.2L172.3 339.7L173.3 339.5L358.3 339.5L363.3 339.2L396.0 339.2L401.0 338.9L437.3 338.9L442.0 338.5L462.7 338.5L493.3 337.1L503.3 336.2L508.3 336.1L539.7 333.2L549.3 333.2L575.0 335.1L582.3 335.2L591.0 335.9L601.0 337.8L615.0 339.8L628.4 341.3L629.3 341.7L627.7 342.0L613.0 342.5L610.3 343.3L608.5 344.7L607.6 346.0L607.1 347.7L607.0 366.7L606.7 367.6L605.9 368.0L587.0 368.2L582.7 368.5L558.7 368.5L554.0 368.8L530.3 368.8L525.7 369.1L501.7 369.0L498.3 369.3ZM730.3 368.4L726.0 368.6L723.2 368.3L719.0 366.7L715.7 364.1L713.7 363.9L687.7 366.1L653.0 366.8L649.0 367.1L645.0 366.9L644.3 366.3L644.0 365.3L643.9 347.3L643.1 345.3L640.9 343.0L640.7 342.4L644.3 341.9L655.7 342.5L695.7 342.5L711.3 343.9L716.3 344.7L717.7 344.5L720.0 343.6L721.7 343.4L727.7 343.4L733.7 344.0L735.3 344.7L737.3 346.3L738.3 347.5L739.3 349.3L740.4 353.3L740.4 358.7L739.3 362.0L737.7 364.4L734.7 366.7L730.3 368.4ZM939.7 365.0L935.7 365.0L931.7 363.3L929.4 360.7L928.3 357.0L928.2 351.3L929.3 347.2L930.7 345.3L931.7 344.4L935.7 343.0L939.7 343.0L943.7 344.4L945.9 347.0L947.0 350.7L947.1 356.3L946.0 360.5L943.7 363.3L939.7 365.0ZM502.1 367.0L503.0 366.3L503.4 364.7L503.4 350.7L503.0 349.1L502.3 348.5L501.0 348.2L493.3 348.2L491.7 348.5L490.8 349.3L490.6 350.7L490.6 364.3L491.0 366.3L491.7 366.9L493.0 367.1L500.7 367.2L502.1 367.0Z"/>
<path fill-rule="evenodd" fill="#717171" d="M719.7 238.7L718.0 238.6L716.3 237.4L709.7 227.7L706.0 223.3L699.9 218.0L698.2 215.7L696.9 213.0L696.3 210.3L695.6 203.3L695.6 199.0L696.0 195.0L696.6 192.7L697.5 191.0L699.0 189.5L701.0 188.5L704.0 187.8L706.7 187.9L710.0 188.5L714.0 190.0L718.7 192.4L721.7 194.3L723.0 196.0L724.5 199.3L725.4 203.7L725.8 212.0L725.4 225.7L724.2 232.7L723.4 235.3L721.8 237.7L719.7 238.7ZM850.3 228.7L847.7 228.9L830.3 228.9L818.7 227.0L817.3 226.0L814.8 221.7L811.0 217.3L806.2 213.0L799.0 208.0L795.7 206.3L791.0 205.0L785.0 205.0L777.3 206.5L776.0 206.3L773.3 205.5L771.3 204.6L770.2 203.3L768.5 199.7L768.7 197.7L770.3 194.7L771.7 193.6L782.3 190.1L788.7 189.2L795.7 189.5L811.0 191.7L817.3 192.1L835.7 192.1L838.0 192.5L844.0 195.4L845.6 196.7L846.1 198.3L846.3 204.0L847.8 208.7L853.6 214.7L858.5 219.0L860.0 221.0L860.9 222.7L861.0 225.7L860.6 226.7L859.9 227.3L858.3 227.8L850.3 228.7ZM756.0 193.7L754.0 193.9L752.0 193.5L750.7 192.7L750.6 191.7L751.3 190.8L753.0 190.3L754.7 190.1L756.7 190.5L757.9 191.3L758.1 192.3L757.3 193.2L756.0 193.7ZM294.0 218.1L292.7 218.2L291.0 218.0L287.9 216.3L285.0 213.3L283.1 209.7L282.2 206.3L282.3 200.3L283.3 197.7L285.0 196.3L286.7 195.9L288.0 195.9L290.3 196.3L291.9 197.0L293.7 198.2L295.2 199.7L297.0 202.7L298.1 208.0L297.9 213.0L297.3 214.9L296.5 216.3L295.3 217.4L294.0 218.1ZM322.7 207.1L321.0 207.1L319.8 206.0L319.8 204.7L320.7 203.8L322.3 203.5L323.3 203.9L324.0 204.6L324.0 206.0L322.7 207.1ZM340.7 207.1L339.0 207.3L337.3 206.8L336.3 205.9L336.3 204.8L337.3 203.9L338.7 203.4L340.0 203.4L341.3 203.9L342.3 204.7L342.4 205.7L342.0 206.3L340.7 207.1ZM210.0 230.0L208.7 230.3L207.1 229.7L204.4 226.3L203.5 224.3L203.0 222.0L203.2 220.7L203.9 220.0L205.3 219.6L206.7 219.8L208.0 220.7L209.5 222.3L210.3 224.3L211.1 227.7L210.9 229.0L210.0 230.0ZM138.0 232.4L136.8 232.0L136.0 230.7L136.5 229.0L137.7 228.3L138.9 228.7L139.6 230.0L139.2 231.7L138.0 232.4ZM891.0 249.7L888.7 249.9L886.5 249.0L885.0 247.0L884.0 244.0L883.9 237.3L884.3 234.7L885.4 232.7L886.7 231.7L887.7 231.3L890.0 231.4L891.7 232.1L893.0 233.4L894.0 235.7L894.1 243.3L893.9 245.7L892.7 248.3L892.0 249.1L891.0 249.7ZM1031.7 296.1L1030.3 296.2L1028.7 295.9L1025.0 293.9L1023.4 292.3L1022.3 289.7L1022.5 287.3L1023.9 285.0L1025.7 283.6L1028.0 282.2L1029.3 281.8L1032.0 281.9L1034.3 283.3L1036.6 285.7L1037.7 288.3L1037.5 290.3L1036.4 292.7L1033.7 295.2L1031.7 296.1ZM963.3 298.7L961.3 298.9L959.7 298.3L958.6 297.0L958.6 295.3L959.7 293.8L961.7 292.5L963.7 292.0L965.7 292.2L967.3 293.4L967.6 294.3L967.5 295.3L967.0 296.3L966.0 297.4L963.3 298.7ZM1084.3 312.4L1082.7 312.5L1081.8 312.0L1081.3 311.3L1081.3 309.7L1082.3 308.5L1084.0 308.4L1084.7 308.7L1085.3 309.5L1085.5 311.0L1085.0 311.9L1084.3 312.4ZM479.7 367.0L475.7 367.2L382.7 367.1L382.0 366.6L381.7 365.3L381.6 352.3L381.2 350.0L379.9 347.3L378.7 345.7L377.0 344.5L373.4 342.7L373.0 342.0L373.7 341.7L376.0 341.5L397.0 341.4L401.0 341.1L438.0 341.1L442.3 340.8L463.3 340.7L493.7 339.4L504.0 338.5L509.0 338.4L540.7 335.4L549.0 335.5L574.3 337.4L582.0 337.5L590.3 338.1L605.0 340.7L606.3 341.0L607.1 341.7L606.9 342.3L605.0 345.0L604.3 347.0L604.2 364.0L603.7 365.3L602.7 365.8L586.7 365.9L582.3 366.2L558.0 366.2L553.7 366.6L542.0 366.4L541.0 365.8L540.7 364.7L540.6 348.3L539.7 346.7L537.3 345.2L535.0 344.9L485.7 344.9L484.0 345.1L483.0 345.5L481.6 346.7L480.8 348.0L480.6 366.0L480.4 366.7L479.7 367.0ZM295.3 366.4L291.7 366.6L287.3 366.2L269.3 366.2L267.3 366.0L266.7 365.4L266.4 364.7L266.3 352.0L266.1 351.0L265.7 350.4L264.0 350.0L248.7 349.8L244.0 346.3L239.7 344.4L237.0 343.7L207.3 343.7L204.7 344.2L199.7 346.1L196.9 348.0L195.0 350.7L194.6 353.0L194.4 363.3L193.7 364.3L192.3 364.5L184.0 364.6L180.3 364.3L158.0 363.9L119.3 360.4L118.0 360.1L118.0 350.1L122.3 347.1L126.7 345.9L137.7 345.8L143.3 346.7L146.3 346.7L152.7 345.3L153.9 344.7L155.3 343.3L156.3 342.9L168.7 342.6L173.3 341.8L332.7 341.8L337.7 341.9L339.7 342.3L339.4 342.7L335.7 344.6L332.0 347.3L330.0 349.5L329.0 349.9L299.7 349.9L297.7 350.2L296.9 351.0L296.7 352.0L296.6 365.0L296.2 366.0L295.3 366.4ZM728.7 365.0L726.0 365.1L724.3 364.9L721.3 363.6L719.0 361.7L716.7 361.3L687.3 363.9L648.0 364.7L647.3 364.3L646.8 363.0L646.8 348.7L646.5 345.3L647.3 344.6L649.7 344.4L655.3 344.8L695.0 344.8L711.0 346.2L718.7 347.6L723.3 346.9L727.0 346.9L731.8 347.3L734.0 348.7L735.3 351.0L736.1 354.3L736.0 358.3L735.0 361.0L734.0 362.3L732.0 363.8L728.7 365.0Z"/>
<path fill-rule="evenodd" fill="#575757" d="M719.3 236.0L718.7 235.9L718.0 235.2L712.7 227.3L708.5 222.3L701.8 216.3L699.7 212.6L699.0 210.3L698.6 207.0L698.2 202.7L698.3 199.0L698.7 195.3L699.4 193.0L700.3 191.6L702.0 190.6L704.3 190.1L706.0 190.0L709.0 190.6L712.7 192.0L719.4 195.7L720.5 197.0L721.7 199.5L722.7 204.0L723.1 212.3L722.8 224.3L722.3 227.9L721.2 233.7L720.4 235.3L719.3 236.0ZM848.7 226.7L831.0 226.7L820.3 225.0L819.3 224.2L816.5 219.7L812.3 215.1L808.7 211.9L804.7 208.8L798.7 205.1L793.7 203.2L791.3 202.8L784.7 202.8L778.0 204.1L776.0 204.0L773.7 203.1L772.7 202.3L771.4 199.7L771.5 198.0L772.7 196.0L774.0 195.2L783.3 192.2L788.3 191.5L794.7 191.6L809.7 193.8L815.7 194.2L835.0 194.2L837.0 194.6L842.0 197.0L843.0 197.8L843.4 199.0L843.6 204.7L845.3 209.7L851.8 216.3L856.3 220.3L858.2 223.3L858.3 224.7L858.0 225.2L857.3 225.6L848.7 226.7ZM293.3 215.7L292.3 215.9L291.4 215.7L289.0 214.1L287.2 212.0L285.7 208.9L284.9 206.0L284.9 201.3L285.5 199.3L286.6 198.3L289.0 198.4L291.1 199.3L293.0 201.0L294.5 203.7L295.4 208.3L295.4 211.7L294.7 214.3L293.3 215.7ZM1031.3 294.4L1029.7 294.4L1028.3 293.7L1026.9 291.7L1026.2 289.7L1026.3 287.7L1027.1 285.7L1028.6 284.0L1030.0 283.4L1031.7 283.7L1033.0 284.6L1034.0 286.0L1034.5 287.7L1034.5 290.0L1034.0 291.7L1032.9 293.3L1031.3 294.4ZM554.7 364.3L545.7 364.4L544.3 364.1L543.8 363.7L543.6 362.3L543.4 347.7L542.9 346.3L542.0 345.3L540.0 343.7L538.7 343.0L536.0 342.6L504.3 342.5L496.8 342.0L504.7 340.7L509.7 340.6L525.7 339.0L532.7 338.5L539.3 337.6L547.3 337.6L573.7 339.5L581.3 339.6L589.7 340.3L600.7 342.3L601.7 342.7L602.3 343.3L601.4 348.0L601.3 362.0L601.1 363.0L600.7 363.4L599.0 363.7L585.7 363.8L582.0 364.1L557.3 364.1L554.7 364.3ZM476.3 365.0L384.7 365.0L383.8 364.3L383.6 363.3L383.4 350.7L382.8 349.0L380.4 344.3L381.0 343.8L382.7 343.6L397.7 343.6L402.0 343.2L439.0 343.2L443.0 342.9L464.0 342.9L475.3 342.2L481.0 342.4L481.5 342.7L481.4 343.0L478.7 346.0L477.9 347.7L477.7 363.3L477.3 364.6L476.3 365.0ZM190.0 362.4L158.7 361.7L124.0 358.7L121.2 358.3L120.3 357.9L119.9 357.0L119.9 354.7L120.8 351.7L121.8 350.3L124.0 349.0L127.7 348.0L137.7 347.9L142.3 348.8L147.3 348.9L149.0 348.5L150.7 347.3L153.7 346.3L156.0 344.8L158.5 344.3L167.7 344.2L172.7 343.9L193.0 343.9L195.7 344.2L196.2 344.7L196.1 345.0L193.4 348.0L192.1 350.7L191.7 353.0L191.6 361.0L191.1 362.0L190.0 362.4ZM292.3 364.3L288.0 364.1L271.7 364.1L270.0 363.8L269.5 363.3L269.3 362.3L269.2 351.0L268.7 349.7L267.9 348.7L266.7 348.0L265.0 347.6L250.3 347.5L248.9 346.7L247.1 344.7L247.3 344.3L248.3 344.0L251.0 343.9L328.7 343.9L331.0 344.0L331.9 344.3L331.8 345.0L330.9 346.0L329.3 347.2L328.3 347.5L299.0 347.6L296.0 348.1L294.7 349.1L293.9 350.7L293.7 363.0L293.3 363.9L292.3 364.3ZM662.0 362.3L651.7 362.4L650.7 362.3L650.0 361.9L649.6 360.3L649.6 349.0L649.7 347.7L650.2 347.0L651.3 346.7L654.7 346.9L694.3 346.9L710.0 348.3L720.7 350.5L724.5 353.0L725.1 353.7L725.4 354.7L725.2 357.7L724.7 358.2L723.7 358.5L686.7 361.7L677.0 361.8L673.7 362.1L664.3 362.1L662.0 362.3Z"/></g>
<path fill="none" stroke="#ff0000" stroke-width="3" stroke-linejoin="round" d="M127.2 283.2C128.74 283.47 139.14 285.04 142.6 285.9C146.06 286.76 158.87 291.62 161.8 291.8C164.73 291.98 169.98 289.24 171.9 287.7C173.82 286.16 178.96 279.56 181 276.4C183.04 273.24 190.16 259.3 192.3 256.1C194.44 252.9 200.94 245.62 202.4 244.4C203.86 243.18 205.66 243.52 206.9 243.9C208.14 244.28 212.65 246.07 214.8 248.2C216.95 250.33 225.69 261.92 228.4 265.2C231.11 268.48 239.87 278.97 241.9 281C243.93 283.03 246.89 284.56 248.7 285.5C250.51 286.44 257.07 289.55 260 290.4C262.93 291.25 273.94 293.14 278 294C282.06 294.86 297.43 298.72 300.6 299C303.77 299.28 307.89 297.81 309.7 296.8C311.51 295.79 316.67 291.38 318.7 288.9C320.73 286.42 327.86 274.94 330 272C332.14 269.06 338.63 260.86 340.1 259.5C341.57 258.14 343.45 258.06 344.7 258.4C345.95 258.74 350.94 261.55 352.6 262.9C354.26 264.25 359.3 269.87 361.3 271.9C363.3 273.93 370.12 280.94 372.6 283.2C375.08 285.46 383.62 292.87 386.1 294.5C388.58 296.13 394.24 298.6 397.4 299.5C400.56 300.4 413.63 302.69 417.7 303.5C421.77 304.31 434.94 307.48 438.1 307.6C441.26 307.72 447.5 305.44 449.3 304.7C451.1 303.96 454.4 301.56 456.1 300.2C457.8 298.84 464.6 293.02 466.3 291.1C468 289.18 471.86 282.51 473.1 281C474.34 279.49 477.64 276.64 478.7 276C479.76 275.36 482.12 273.88 483.7 274.6C485.28 275.32 492.18 281.1 494.5 283.2C496.82 285.3 504.19 293.57 506.9 295.6C509.61 297.63 518.1 302.14 521.6 303.5C525.1 304.86 537.61 308.07 541.9 309.2C546.19 310.33 561 313.97 564.5 314.8C568 315.63 574.81 317.64 576.9 317.5C578.99 317.36 583.74 314.75 585.4 313.4C587.06 312.05 591.6 306.84 593.5 304C595.4 301.16 602.5 288.39 604.4 285C606.3 281.61 611.15 272.27 612.5 270.1C613.85 267.93 616.95 264.03 617.9 263.3C618.85 262.57 620.91 262.39 622 262.8C623.09 263.21 626.5 264.5 628.8 267.4C631.1 270.3 642.03 288.01 645 291.8C647.97 295.59 655.52 303.19 658.5 305.3C661.48 307.41 671.27 312.22 674.8 312.9C678.33 313.58 690.01 312.45 693.8 312.1C697.59 311.75 710 310.08 712.7 309.4C715.4 308.72 719.17 306.93 720.8 305.3C722.43 303.67 727.1 296.62 729 293.1C730.9 289.58 737.91 274.16 739.8 270.1C741.69 266.04 746.41 255.02 747.9 252.5C749.39 249.98 753.48 245.58 754.7 244.9C755.92 244.22 758.88 244.94 760.1 245.7C761.32 246.46 765.14 250.47 766.9 252.5C768.66 254.53 775.26 263.56 777.7 266C780.14 268.44 789.07 275.43 791.3 276.9C793.53 278.37 798.05 279.86 800 280.7C801.95 281.54 809.18 284.76 810.8 285.3C812.42 285.84 813.76 286.29 816.2 286.1C818.64 285.91 831.13 284.29 835.2 283.4C839.27 282.51 853.92 278.28 856.9 277.2C859.88 276.12 863.11 274.42 865 272.6C866.89 270.78 873.63 261.84 875.8 259C877.97 256.16 884.94 246.23 886.7 244.2C888.46 242.17 892.05 239.33 893.4 238.7C894.75 238.07 898.71 237.63 900.2 237.9C901.69 238.17 906.68 240.5 908.3 241.4C909.92 242.3 914.5 245.87 916.4 246.9C918.3 247.93 924.32 250.81 927.3 251.7C930.28 252.59 942.41 255.15 946.2 255.8C949.99 256.45 962.22 257.52 965.2 258.2C968.18 258.88 973.57 261.78 976 262.6C978.43 263.42 987.06 266.29 989.5 266.4C991.94 266.51 998.5 264.84 1000.4 263.7C1002.3 262.56 1006.88 257.5 1008.5 255C1010.12 252.5 1014.98 242.22 1016.6 238.7C1018.22 235.18 1023.21 222.31 1024.7 219.8C1026.19 217.29 1030.28 214.22 1031.5 213.6C1032.72 212.98 1035.68 213.12 1036.9 213.6C1038.12 214.08 1041.94 216.83 1043.7 218.4C1045.46 219.97 1052.06 227.54 1054.5 229.3C1056.94 231.06 1065.39 234.79 1068.1 236C1070.81 237.21 1078.96 240.35 1081.6 241.4C1084.24 242.45 1093.21 245.99 1094.5 246.5"/>
<line x1="128" y1="321.5" x2="1094" y2="321.5" stroke="#7a7a7a" stroke-width="1" stroke-dasharray="1 1"/>
<line x1="128" y1="284.5" x2="1094" y2="284.5" stroke="#7a7a7a" stroke-width="1" stroke-dasharray="1 1"/>
<line x1="128" y1="247.5" x2="1094" y2="247.5" stroke="#7a7a7a" stroke-width="1" stroke-dasharray="1 1"/>
<line x1="128" y1="209.5" x2="1094" y2="209.5" stroke="#7a7a7a" stroke-width="1" stroke-dasharray="1 1"/>
<line x1="128" y1="172.5" x2="1094" y2="172.5" stroke="#7a7a7a" stroke-width="1" stroke-dasharray="1 1"/>
<line x1="265.5" y1="97.5" x2="265.5" y2="359.1" stroke="#858585" stroke-width="1"/>
<line x1="403.5" y1="97.5" x2="403.5" y2="359.1" stroke="#858585" stroke-width="1"/>
<line x1="541.5" y1="97.5" x2="541.5" y2="359.1" stroke="#858585" stroke-width="1"/>
<line x1="680.5" y1="97.5" x2="680.5" y2="359.1" stroke="#858585" stroke-width="1"/>
<line x1="818.5" y1="97.5" x2="818.5" y2="359.1" stroke="#858585" stroke-width="1"/>
<line x1="956.5" y1="97.5" x2="956.5" y2="359.1" stroke="#858585" stroke-width="1"/>
<line x1="127.3" y1="303.5" x2="1094.6" y2="303.5" stroke="#404040" stroke-width="1"/>
<line x1="144.5" y1="359.1" x2="144.5" y2="354.1" stroke="#000" stroke-width="1.1"/>
<line x1="161.5" y1="359.1" x2="161.5" y2="349.1" stroke="#000" stroke-width="1.1"/>
<line x1="179.5" y1="359.1" x2="179.5" y2="354.1" stroke="#000" stroke-width="1.1"/>
<line x1="196.5" y1="359.1" x2="196.5" y2="349.1" stroke="#000" stroke-width="1.1"/>
<line x1="213.5" y1="359.1" x2="213.5" y2="354.1" stroke="#000" stroke-width="1.1"/>
<line x1="230.5" y1="359.1" x2="230.5" y2="349.1" stroke="#000" stroke-width="1.1"/>
<line x1="248.5" y1="359.1" x2="248.5" y2="354.1" stroke="#000" stroke-width="1.1"/>
<line x1="282.5" y1="359.1" x2="282.5" y2="354.1" stroke="#000" stroke-width="1.1"/>
<line x1="300.5" y1="359.1" x2="300.5" y2="349.1" stroke="#000" stroke-width="1.1"/>
<line x1="317.5" y1="359.1" x2="317.5" y2="354.1" stroke="#000" stroke-width="1.1"/>
<line x1="334.5" y1="359.1" x2="334.5" y2="349.1" stroke="#000" stroke-width="1.1"/>
<line x1="351.5" y1="359.1" x2="351.5" y2="354.1" stroke="#000" stroke-width="1.1"/>
<line x1="369.5" y1="359.1" x2="369.5" y2="349.1" stroke="#000" stroke-width="1.1"/>
<line x1="386.5" y1="359.1" x2="386.5" y2="354.1" stroke="#000" stroke-width="1.1"/>
<line x1="420.5" y1="359.1" x2="420.5" y2="354.1" stroke="#000" stroke-width="1.1"/>
<line x1="438.5" y1="359.1" x2="438.5" y2="349.1" stroke="#000" stroke-width="1.1"/>
<line x1="455.5" y1="359.1" x2="455.5" y2="354.1" stroke="#000" stroke-width="1.1"/>
<line x1="472.5" y1="359.1" x2="472.5" y2="349.1" stroke="#000" stroke-width="1.1"/>
<line x1="490.5" y1="359.1" x2="490.5" y2="354.1" stroke="#000" stroke-width="1.1"/>
<line x1="507.5" y1="359.1" x2="507.5" y2="349.1" stroke="#000" stroke-width="1.1"/>
<line x1="524.5" y1="359.1" x2="524.5" y2="354.1" stroke="#000" stroke-width="1.1"/>
<line x1="559.5" y1="359.1" x2="559.5" y2="354.1" stroke="#000" stroke-width="1.1"/>
<line x1="576.5" y1="359.1" x2="576.5" y2="349.1" stroke="#000" stroke-width="1.1"/>
<line x1="593.5" y1="359.1" x2="593.5" y2="354.1" stroke="#000" stroke-width="1.1"/>
<line x1="610.5" y1="359.1" x2="610.5" y2="349.1" stroke="#000" stroke-width="1.1"/>
<line x1="628.5" y1="359.1" x2="628.5" y2="354.1" stroke="#000" stroke-width="1.1"/>
<line x1="645.5" y1="359.1" x2="645.5" y2="349.1" stroke="#000" stroke-width="1.1"/>
<line x1="662.5" y1="359.1" x2="662.5" y2="354.1" stroke="#000" stroke-width="1.1"/>
<line x1="697.5" y1="359.1" x2="697.5" y2="354.1" stroke="#000" stroke-width="1.1"/>
<line x1="714.5" y1="359.1" x2="714.5" y2="349.1" stroke="#000" stroke-width="1.1"/>
<line x1="731.5" y1="359.1" x2="731.5" y2="354.1" stroke="#000" stroke-width="1.1"/>
<line x1="749.5" y1="359.1" x2="749.5" y2="349.1" stroke="#000" stroke-width="1.1"/>
<line x1="766.5" y1="359.1" x2="766.5" y2="354.1" stroke="#000" stroke-width="1.1"/>
<line x1="783.5" y1="359.1" x2="783.5" y2="349.1" stroke="#000" stroke-width="1.1"/>
<line x1="800.5" y1="359.1" x2="800.5" y2="354.1" stroke="#000" stroke-width="1.1"/>
<line x1="835.5" y1="359.1" x2="835.5" y2="354.1" stroke="#000" stroke-width="1.1"/>
<line x1="852.5" y1="359.1" x2="852.5" y2="349.1" stroke="#000" stroke-width="1.1"/>
<line x1="870.5" y1="359.1" x2="870.5" y2="354.1" stroke="#000" stroke-width="1.1"/>
<line x1="887.5" y1="359.1" x2="887.5" y2="349.1" stroke="#000" stroke-width="1.1"/>
<line x1="904.5" y1="359.1" x2="904.5" y2="354.1" stroke="#000" stroke-width="1.1"/>
<line x1="921.5" y1="359.1" x2="921.5" y2="349.1" stroke="#000" stroke-width="1.1"/>
<line x1="939.5" y1="359.1" x2="939.5" y2="354.1" stroke="#000" stroke-width="1.1"/>
<line x1="973.5" y1="359.1" x2="973.5" y2="354.1" stroke="#000" stroke-width="1.1"/>
<line x1="990.5" y1="359.1" x2="990.5" y2="349.1" stroke="#000" stroke-width="1.1"/>
<line x1="1008.5" y1="359.1" x2="1008.5" y2="354.1" stroke="#000" stroke-width="1.1"/>
<line x1="1025.5" y1="359.1" x2="1025.5" y2="349.1" stroke="#000" stroke-width="1.1"/>
<line x1="1042.5" y1="359.1" x2="1042.5" y2="354.1" stroke="#000" stroke-width="1.1"/>
<line x1="1060.5" y1="359.1" x2="1060.5" y2="349.1" stroke="#000" stroke-width="1.1"/>
<line x1="1077.5" y1="359.1" x2="1077.5" y2="354.1" stroke="#000" stroke-width="1.1"/>
<text x="161.8" y="312.6" text-anchor="middle" style="font-family:'DejaVu Sans',sans-serif;font-size:17.6px" fill="#000">1</text>
<text x="207" y="265.6" text-anchor="middle" style="font-family:'DejaVu Sans',sans-serif;font-size:17.6px" fill="#000">6</text>
<text x="299.5" y="319.3" text-anchor="middle" style="font-family:'DejaVu Sans',sans-serif;font-size:17.6px" fill="#000">0</text>
<text x="344.7" y="279.8" text-anchor="middle" style="font-family:'DejaVu Sans',sans-serif;font-size:17.6px" fill="#000">5</text>
<text x="437.9" y="328.6" text-anchor="middle" style="font-family:'DejaVu Sans',sans-serif;font-size:17.6px" fill="#000">-1</text>
<text x="483.9" y="296" text-anchor="middle" style="font-family:'DejaVu Sans',sans-serif;font-size:17.6px" fill="#000">3</text>
<text x="575.6" y="338.7" text-anchor="middle" style="font-family:'DejaVu Sans',sans-serif;font-size:17.6px" fill="#000">-2</text>
<text x="622" y="283.8" text-anchor="middle" style="font-family:'DejaVu Sans',sans-serif;font-size:17.6px" fill="#000">4</text>
<text x="680.2" y="335.3" text-anchor="middle" style="font-family:'DejaVu Sans',sans-serif;font-size:17.6px" fill="#000">-1</text>
<text x="754.7" y="266.2" text-anchor="middle" style="font-family:'DejaVu Sans',sans-serif;font-size:17.6px" fill="#000">6</text>
<text x="818.4" y="306.9" text-anchor="middle" style="font-family:'DejaVu Sans',sans-serif;font-size:17.6px" fill="#000">2</text>
<text x="898.8" y="257.9" text-anchor="middle" style="font-family:'DejaVu Sans',sans-serif;font-size:17.6px" fill="#000">7</text>
<text x="990.9" y="287.7" text-anchor="middle" style="font-family:'DejaVu Sans',sans-serif;font-size:17.6px" fill="#000">4</text>
<text x="1031.5" y="234.9" text-anchor="middle" style="font-family:'DejaVu Sans',sans-serif;font-size:17.6px" fill="#000">10</text>
<text x="1095.2" y="267.4" text-anchor="middle" style="font-family:'DejaVu Sans',sans-serif;font-size:17.6px" fill="#000">6</text>
<rect x="127.5" y="97.5" width="967" height="261.6" fill="none" stroke="#000" stroke-width="1.15"/>
<circle cx="127.3" cy="153" r="3.7" fill="none" stroke="#000" stroke-width="1.9"/>
<circle cx="144.57" cy="153" r="3.7" fill="none" stroke="#000" stroke-width="1.9"/>
<circle cx="161.85" cy="153" r="3.7" fill="none" stroke="#000" stroke-width="1.9"/>
<circle cx="179.12" cy="153" r="3.7" fill="none" stroke="#000" stroke-width="1.9"/>
<circle cx="196.39" cy="153" r="3.7" fill="none" stroke="#000" stroke-width="1.9"/>
<circle cx="213.67" cy="153" r="3.7" fill="none" stroke="#000" stroke-width="1.9"/>
<circle cx="230.94" cy="153" r="3.7" fill="none" stroke="#000" stroke-width="1.9"/>
<circle cx="248.21" cy="153" r="3.7" fill="none" stroke="#000" stroke-width="1.9"/>
<circle cx="265.49" cy="153" r="3.7" fill="none" stroke="#000" stroke-width="1.9"/>
<circle cx="282.76" cy="153" r="3.7" fill="none" stroke="#000" stroke-width="1.9"/>
<circle cx="300.03" cy="153" r="3.7" fill="none" stroke="#000" stroke-width="1.9"/>
<circle cx="317.31" cy="153" r="3.7" fill="none" stroke="#000" stroke-width="1.9"/>
<circle cx="334.58" cy="153" r="3.7" fill="none" stroke="#000" stroke-width="1.9"/>
<circle cx="351.85" cy="153" r="3.7" fill="none" stroke="#000" stroke-width="1.9"/>
<circle cx="369.12" cy="153" r="3.7" fill="none" stroke="#000" stroke-width="1.9"/>
<circle cx="386.4" cy="153" r="3.7" fill="none" stroke="#000" stroke-width="1.9"/>
<circle cx="403.67" cy="153" r="3.7" fill="none" stroke="#000" stroke-width="1.9"/>
<circle cx="420.94" cy="153" r="3.7" fill="none" stroke="#000" stroke-width="1.9"/>
<circle cx="438.22" cy="153" r="3.7" fill="none" stroke="#000" stroke-width="1.9"/>
<circle cx="455.49" cy="153" r="3.7" fill="none" stroke="#000" stroke-width="1.9"/>
<circle cx="472.76" cy="153" r="3.7" fill="none" stroke="#000" stroke-width="1.9"/>
<circle cx="490.04" cy="153" r="3.7" fill="none" stroke="#000" stroke-width="1.9"/>
<circle cx="507.31" cy="153" r="3.7" fill="none" stroke="#000" stroke-width="1.9"/>
<circle cx="524.58" cy="153" r="3.7" fill="none" stroke="#000" stroke-width="1.9"/>
<circle cx="541.86" cy="153" r="3.7" fill="none" stroke="#000" stroke-width="1.9"/>
<circle cx="559.13" cy="153" r="3.7" fill="none" stroke="#000" stroke-width="1.9"/>
<circle cx="576.4" cy="153" r="3.7" fill="none" stroke="#000" stroke-width="1.9"/>
<circle cx="593.68" cy="153" r="3.7" fill="none" stroke="#000" stroke-width="1.9"/>
<circle cx="610.95" cy="153" r="3.7" fill="none" stroke="#000" stroke-width="1.9"/>
<circle cx="628.22" cy="153" r="3.7" fill="none" stroke="#000" stroke-width="1.9"/>
<circle cx="645.5" cy="153" r="3.7" fill="none" stroke="#000" stroke-width="1.9"/>
<circle cx="662.77" cy="153" r="3.7" fill="none" stroke="#000" stroke-width="1.9"/>
<circle cx="680.04" cy="153" r="3.7" fill="none" stroke="#000" stroke-width="1.9"/>
<circle cx="697.32" cy="153" r="3.7" fill="none" stroke="#000" stroke-width="1.9"/>
<circle cx="714.59" cy="153" r="3.7" fill="none" stroke="#000" stroke-width="1.9"/>
<circle cx="731.86" cy="153" r="3.7" fill="none" stroke="#000" stroke-width="1.9"/>
<circle cx="749.14" cy="153" r="3.7" fill="none" stroke="#000" stroke-width="1.9"/>
<circle cx="766.41" cy="153" r="3.7" fill="none" stroke="#000" stroke-width="1.9"/>
<circle cx="783.68" cy="153" r="3.7" fill="none" stroke="#000" stroke-width="1.9"/>
<circle cx="800.96" cy="153" r="3.7" fill="none" stroke="#000" stroke-width="1.9"/>
<circle cx="818.23" cy="153" r="3.7" fill="none" stroke="#000" stroke-width="1.9"/>
<circle cx="835.5" cy="153" r="3.7" fill="none" stroke="#000" stroke-width="1.9"/>
<circle cx="852.77" cy="153" r="3.7" fill="none" stroke="#000" stroke-width="1.9"/>
<circle cx="870.05" cy="153" r="3.7" fill="none" stroke="#000" stroke-width="1.9"/>
<circle cx="887.32" cy="153" r="3.7" fill="none" stroke="#000" stroke-width="1.9"/>
<circle cx="904.59" cy="153" r="3.7" fill="none" stroke="#000" stroke-width="1.9"/>
<circle cx="921.87" cy="153" r="3.7" fill="none" stroke="#000" stroke-width="1.9"/>
<circle cx="939.14" cy="153" r="3.7" fill="none" stroke="#000" stroke-width="1.9"/>
<circle cx="956.41" cy="153" r="3.7" fill="none" stroke="#000" stroke-width="1.9"/>
<circle cx="973.69" cy="153" r="3.7" fill="none" stroke="#000" stroke-width="1.9"/>
<circle cx="990.96" cy="153" r="3.7" fill="none" stroke="#000" stroke-width="1.9"/>
<circle cx="1008.23" cy="153" r="3.7" fill="none" stroke="#000" stroke-width="1.9"/>
<path d="M1015.01 160.2L1036.01 145.8M1018.47 157.82L1014.98 154.15" stroke="#000" stroke-width="1.9" fill="none" stroke-linecap="butt"/>
<path d="M1032.28 160L1053.28 146M1035.77 157.67L1032.34 153.95" stroke="#000" stroke-width="1.9" fill="none" stroke-linecap="butt"/>
<path d="M1050.25 160.8L1069.85 145.2M1053.54 158.18L1049.8 154.77" stroke="#000" stroke-width="1.9" fill="none" stroke-linecap="butt"/>
<path d="M1066.53 158.9L1088.13 147.1M1070.21 156.89L1067.11 152.88" stroke="#000" stroke-width="1.9" fill="none" stroke-linecap="butt"/>
<path d="M1083.8 159L1105.4 147M1087.47 156.96L1084.34 152.98" stroke="#000" stroke-width="1.9" fill="none" stroke-linecap="butt"/>
<path d="M148.77 101.1A12.68 12.68 0 1 0 148.77 126.4A17.75 17.75 0 0 1 148.77 101.1Z" fill="#fcfcfc" stroke="#000" stroke-width="1.6" stroke-linejoin="round"/>
<path d="M127.27 115.2H161.87M127.27 119H161.87" stroke="#2f5a87" stroke-width="1.4"/>
<path d="M128.97 123.4H160.57" stroke="#2f5a87" stroke-width="2.3"/>
<path d="M166.32 110.6L172.42 111.8M171.92 103.2L175.52 107.8M181.92 101.3L180.72 107.2M190.52 107.3L184.72 109.8M185.72 115.1L191.22 115.8" stroke="#f0b020" stroke-width="2.6" stroke-linecap="round"/>
<path d="M166.32 110.6L172.42 111.8M171.92 103.2L175.52 107.8M181.92 101.3L180.72 107.2M190.52 107.3L184.72 109.8M185.72 115.1L191.22 115.8" stroke="#f7e71a" stroke-width="1.7" stroke-linecap="round"/>
<path d="M171.82 115.8A7.1 7.1 0 0 1 186.02 115.8Z" fill="#f7e71a" stroke="#f0b020" stroke-width="0.6"/>
<path d="M161.82 117.1H196.42M162.32 121H196.42" stroke="#4f80c6" stroke-width="1.6"/>
<path d="M164.12 125.3H195.32" stroke="#4f80c6" stroke-width="2.6"/>
<path d="M166.12 119H169.12M175.12 119H183.12M176.12 123.2H178.12M184.12 123.2H186.62" stroke="#f7e71a" stroke-width="1" opacity="0.8"/>
<path d="M200.87 110.6L206.97 111.8M206.47 103.2L210.07 107.8M216.47 101.3L215.27 107.2M225.07 107.3L219.27 109.8M220.27 115.1L225.77 115.8" stroke="#f0b020" stroke-width="2.6" stroke-linecap="round"/>
<path d="M200.87 110.6L206.97 111.8M206.47 103.2L210.07 107.8M216.47 101.3L215.27 107.2M225.07 107.3L219.27 109.8M220.27 115.1L225.77 115.8" stroke="#f7e71a" stroke-width="1.7" stroke-linecap="round"/>
<path d="M206.37 115.8A7.1 7.1 0 0 1 220.57 115.8Z" fill="#f7e71a" stroke="#f0b020" stroke-width="0.6"/>
<path d="M196.37 117.1H230.97M196.87 121H230.97" stroke="#4f80c6" stroke-width="1.6"/>
<path d="M198.67 125.3H229.87" stroke="#4f80c6" stroke-width="2.6"/>
<path d="M200.67 119H203.67M209.67 119H217.67M210.67 123.2H212.67M218.67 123.2H221.17" stroke="#f7e71a" stroke-width="1" opacity="0.8"/>
<path d="M252.41 101.1A12.68 12.68 0 1 0 252.41 126.4A17.75 17.75 0 0 1 252.41 101.1Z" fill="#fcfcfc" stroke="#000" stroke-width="1.6" stroke-linejoin="round"/>
<path d="M230.91 115.2H265.51M230.91 119H265.51" stroke="#2f5a87" stroke-width="1.4"/>
<path d="M232.61 123.4H264.21" stroke="#2f5a87" stroke-width="2.3"/>
<path d="M286.96 101.1A12.68 12.68 0 1 0 286.96 126.4A17.75 17.75 0 0 1 286.96 101.1Z" fill="#fcfcfc" stroke="#000" stroke-width="1.6" stroke-linejoin="round"/>
<path d="M265.46 115.2H300.06M265.46 119H300.06" stroke="#2f5a87" stroke-width="1.4"/>
<path d="M267.16 123.4H298.76" stroke="#2f5a87" stroke-width="2.3"/>
<path d="M304.51 110.6L310.61 111.8M310.11 103.2L313.71 107.8M320.11 101.3L318.91 107.2M328.71 107.3L322.91 109.8M323.91 115.1L329.41 115.8" stroke="#f0b020" stroke-width="2.6" stroke-linecap="round"/>
<path d="M304.51 110.6L310.61 111.8M310.11 103.2L313.71 107.8M320.11 101.3L318.91 107.2M328.71 107.3L322.91 109.8M323.91 115.1L329.41 115.8" stroke="#f7e71a" stroke-width="1.7" stroke-linecap="round"/>
<path d="M310.01 115.8A7.1 7.1 0 0 1 324.21 115.8Z" fill="#f7e71a" stroke="#f0b020" stroke-width="0.6"/>
<path d="M300.01 117.1H334.61M300.51 121H334.61" stroke="#4f80c6" stroke-width="1.6"/>
<path d="M302.31 125.3H333.51" stroke="#4f80c6" stroke-width="2.6"/>
<path d="M304.31 119H307.31M313.31 119H321.31M314.31 123.2H316.31M322.31 123.2H324.81" stroke="#f7e71a" stroke-width="1" opacity="0.8"/>
<path d="M339.05 110.6L345.15 111.8M344.65 103.2L348.25 107.8M354.65 101.3L353.45 107.2M363.25 107.3L357.45 109.8M358.45 115.1L363.95 115.8" stroke="#f0b020" stroke-width="2.6" stroke-linecap="round"/>
<path d="M339.05 110.6L345.15 111.8M344.65 103.2L348.25 107.8M354.65 101.3L353.45 107.2M363.25 107.3L357.45 109.8M358.45 115.1L363.95 115.8" stroke="#f7e71a" stroke-width="1.7" stroke-linecap="round"/>
<path d="M344.55 115.8A7.1 7.1 0 0 1 358.75 115.8Z" fill="#f7e71a" stroke="#f0b020" stroke-width="0.6"/>
<path d="M334.55 117.1H369.15M335.05 121H369.15" stroke="#4f80c6" stroke-width="1.6"/>
<path d="M336.85 125.3H368.05" stroke="#4f80c6" stroke-width="2.6"/>
<path d="M338.85 119H341.85M347.85 119H355.85M348.85 123.2H350.85M356.85 123.2H359.35" stroke="#f7e71a" stroke-width="1" opacity="0.8"/>
<path d="M390.6 101.1A12.68 12.68 0 1 0 390.6 126.4A17.75 17.75 0 0 1 390.6 101.1Z" fill="#fcfcfc" stroke="#000" stroke-width="1.6" stroke-linejoin="round"/>
<path d="M369.1 115.2H403.7M369.1 119H403.7" stroke="#2f5a87" stroke-width="1.4"/>
<path d="M370.8 123.4H402.4" stroke="#2f5a87" stroke-width="2.3"/>
<path d="M425.14 101.1A12.68 12.68 0 1 0 425.14 126.4A17.75 17.75 0 0 1 425.14 101.1Z" fill="#fcfcfc" stroke="#000" stroke-width="1.6" stroke-linejoin="round"/>
<path d="M403.64 115.2H438.24M403.64 119H438.24" stroke="#2f5a87" stroke-width="1.4"/>
<path d="M405.34 123.4H436.94" stroke="#2f5a87" stroke-width="2.3"/>
<path d="M442.69 110.6L448.79 111.8M448.29 103.2L451.89 107.8M458.29 101.3L457.09 107.2M466.89 107.3L461.09 109.8M462.09 115.1L467.59 115.8" stroke="#f0b020" stroke-width="2.6" stroke-linecap="round"/>
<path d="M442.69 110.6L448.79 111.8M448.29 103.2L451.89 107.8M458.29 101.3L457.09 107.2M466.89 107.3L461.09 109.8M462.09 115.1L467.59 115.8" stroke="#f7e71a" stroke-width="1.7" stroke-linecap="round"/>
<path d="M448.19 115.8A7.1 7.1 0 0 1 462.39 115.8Z" fill="#f7e71a" stroke="#f0b020" stroke-width="0.6"/>
<path d="M438.19 117.1H472.79M438.69 121H472.79" stroke="#4f80c6" stroke-width="1.6"/>
<path d="M440.49 125.3H471.69" stroke="#4f80c6" stroke-width="2.6"/>
<path d="M442.49 119H445.49M451.49 119H459.49M452.49 123.2H454.49M460.49 123.2H462.99" stroke="#f7e71a" stroke-width="1" opacity="0.8"/>
<path d="M477.24 110.6L483.34 111.8M482.84 103.2L486.44 107.8M492.84 101.3L491.64 107.2M501.44 107.3L495.64 109.8M496.64 115.1L502.14 115.8" stroke="#f0b020" stroke-width="2.6" stroke-linecap="round"/>
<path d="M477.24 110.6L483.34 111.8M482.84 103.2L486.44 107.8M492.84 101.3L491.64 107.2M501.44 107.3L495.64 109.8M496.64 115.1L502.14 115.8" stroke="#f7e71a" stroke-width="1.7" stroke-linecap="round"/>
<path d="M482.74 115.8A7.1 7.1 0 0 1 496.94 115.8Z" fill="#f7e71a" stroke="#f0b020" stroke-width="0.6"/>
<path d="M472.74 117.1H507.34M473.24 121H507.34" stroke="#4f80c6" stroke-width="1.6"/>
<path d="M475.04 125.3H506.24" stroke="#4f80c6" stroke-width="2.6"/>
<path d="M477.04 119H480.04M486.04 119H494.04M487.04 123.2H489.04M495.04 123.2H497.54" stroke="#f7e71a" stroke-width="1" opacity="0.8"/>
<path d="M528.78 101.1A12.68 12.68 0 1 0 528.78 126.4A17.75 17.75 0 0 1 528.78 101.1Z" fill="#fcfcfc" stroke="#000" stroke-width="1.6" stroke-linejoin="round"/>
<path d="M507.28 115.2H541.88M507.28 119H541.88" stroke="#2f5a87" stroke-width="1.4"/>
<path d="M508.98 123.4H540.58" stroke="#2f5a87" stroke-width="2.3"/>
<path d="M563.33 101.1A12.68 12.68 0 1 0 563.33 126.4A17.75 17.75 0 0 1 563.33 101.1Z" fill="#fcfcfc" stroke="#000" stroke-width="1.6" stroke-linejoin="round"/>
<path d="M541.83 115.2H576.43M541.83 119H576.43" stroke="#2f5a87" stroke-width="1.4"/>
<path d="M543.53 123.4H575.13" stroke="#2f5a87" stroke-width="2.3"/>
<path d="M580.88 110.6L586.98 111.8M586.48 103.2L590.08 107.8M596.48 101.3L595.28 107.2M605.08 107.3L599.28 109.8M600.28 115.1L605.78 115.8" stroke="#f0b020" stroke-width="2.6" stroke-linecap="round"/>
<path d="M580.88 110.6L586.98 111.8M586.48 103.2L590.08 107.8M596.48 101.3L595.28 107.2M605.08 107.3L599.28 109.8M600.28 115.1L605.78 115.8" stroke="#f7e71a" stroke-width="1.7" stroke-linecap="round"/>
<path d="M586.38 115.8A7.1 7.1 0 0 1 600.58 115.8Z" fill="#f7e71a" stroke="#f0b020" stroke-width="0.6"/>
<path d="M576.38 117.1H610.98M576.88 121H610.98" stroke="#4f80c6" stroke-width="1.6"/>
<path d="M578.68 125.3H609.88" stroke="#4f80c6" stroke-width="2.6"/>
<path d="M580.68 119H583.68M589.68 119H597.68M590.68 123.2H592.68M598.68 123.2H601.18" stroke="#f7e71a" stroke-width="1" opacity="0.8"/>
<path d="M615.42 110.6L621.52 111.8M621.02 103.2L624.62 107.8M631.02 101.3L629.82 107.2M639.62 107.3L633.82 109.8M634.82 115.1L640.32 115.8" stroke="#f0b020" stroke-width="2.6" stroke-linecap="round"/>
<path d="M615.42 110.6L621.52 111.8M621.02 103.2L624.62 107.8M631.02 101.3L629.82 107.2M639.62 107.3L633.82 109.8M634.82 115.1L640.32 115.8" stroke="#f7e71a" stroke-width="1.7" stroke-linecap="round"/>
<path d="M620.92 115.8A7.1 7.1 0 0 1 635.12 115.8Z" fill="#f7e71a" stroke="#f0b020" stroke-width="0.6"/>
<path d="M610.92 117.1H645.52M611.42 121H645.52" stroke="#4f80c6" stroke-width="1.6"/>
<path d="M613.22 125.3H644.42" stroke="#4f80c6" stroke-width="2.6"/>
<path d="M615.22 119H618.22M624.22 119H632.22M625.22 123.2H627.22M633.22 123.2H635.72" stroke="#f7e71a" stroke-width="1" opacity="0.8"/>
<path d="M666.97 101.1A12.68 12.68 0 1 0 666.97 126.4A17.75 17.75 0 0 1 666.97 101.1Z" fill="#fcfcfc" stroke="#000" stroke-width="1.6" stroke-linejoin="round"/>
<path d="M645.47 115.2H680.07M645.47 119H680.07" stroke="#2f5a87" stroke-width="1.4"/>
<path d="M647.17 123.4H678.77" stroke="#2f5a87" stroke-width="2.3"/>
<path d="M701.52 101.1A12.68 12.68 0 1 0 701.52 126.4A17.75 17.75 0 0 1 701.52 101.1Z" fill="#fcfcfc" stroke="#000" stroke-width="1.6" stroke-linejoin="round"/>
<path d="M680.02 115.2H714.62M680.02 119H714.62" stroke="#2f5a87" stroke-width="1.4"/>
<path d="M681.72 123.4H713.32" stroke="#2f5a87" stroke-width="2.3"/>
<path d="M719.06 110.6L725.16 111.8M724.66 103.2L728.26 107.8M734.66 101.3L733.46 107.2M743.26 107.3L737.46 109.8M738.46 115.1L743.96 115.8" stroke="#f0b020" stroke-width="2.6" stroke-linecap="round"/>
<path d="M719.06 110.6L725.16 111.8M724.66 103.2L728.26 107.8M734.66 101.3L733.46 107.2M743.26 107.3L737.46 109.8M738.46 115.1L743.96 115.8" stroke="#f7e71a" stroke-width="1.7" stroke-linecap="round"/>
<path d="M724.56 115.8A7.1 7.1 0 0 1 738.76 115.8Z" fill="#f7e71a" stroke="#f0b020" stroke-width="0.6"/>
<path d="M714.56 117.1H749.16M715.06 121H749.16" stroke="#4f80c6" stroke-width="1.6"/>
<path d="M716.86 125.3H748.06" stroke="#4f80c6" stroke-width="2.6"/>
<path d="M718.86 119H721.86M727.86 119H735.86M728.86 123.2H730.86M736.86 123.2H739.36" stroke="#f7e71a" stroke-width="1" opacity="0.8"/>
<path d="M762.31 103L765.11 107.4M772.31 101.1L771.61 106.5M779.81 107.4L775.31 109.7M781.31 116L775.31 113.9M776.41 123.4L772.71 117.7M756.71 110.4L762.81 111.5" stroke="#f0b020" stroke-width="2.6" stroke-linecap="round"/>
<path d="M762.31 103L765.11 107.4M772.31 101.1L771.61 106.5M779.81 107.4L775.31 109.7M781.31 116L775.31 113.9M776.41 123.4L772.71 117.7M756.71 110.4L762.81 111.5" stroke="#f7e71a" stroke-width="1.7" stroke-linecap="round"/>
<circle cx="769.31" cy="112.3" r="6.3" fill="#f7e71a" stroke="#f0b020" stroke-width="0.6"/>
<g fill="#2363c0" stroke="#2363c0" stroke-width="3"><circle cx="754.41" cy="121.3" r="4.1"/><circle cx="760.81" cy="118.9" r="5"/><circle cx="767.01" cy="121.8" r="4.2"/><rect x="750.41" y="119" width="20.8" height="7" rx="3"/></g>
<g fill="#d3d3d3"><circle cx="754.41" cy="121.3" r="4.1"/><circle cx="760.81" cy="118.9" r="5"/><circle cx="767.01" cy="121.8" r="4.2"/><rect x="750.41" y="119" width="20.8" height="7" rx="3"/></g>
<path d="M762.61 122.6a3.6 3.6 0 0 1 5.2 -1.6" fill="none" stroke="#2363c0" stroke-width="1.5" stroke-linecap="round"/>
<path d="M805.16 101.1A12.68 12.68 0 1 0 805.16 126.4A17.75 17.75 0 0 1 805.16 101.1Z" fill="#fcfcfc" stroke="#000" stroke-width="1.6" stroke-linejoin="round"/>
<path d="M783.66 115.2H818.26M783.66 119H818.26" stroke="#2f5a87" stroke-width="1.4"/>
<path d="M785.36 123.4H816.96" stroke="#2f5a87" stroke-width="2.3"/>
<g fill="#2c5483" stroke="#2c5483" stroke-width="3"><circle cx="823.5" cy="117.3" r="4.6"/><circle cx="834.1" cy="109.8" r="5.6"/><circle cx="845.7" cy="115.2" r="5.6"/><rect x="819" y="114.5" width="32.3" height="7" rx="3"/></g>
<g fill="#d3d3d3"><circle cx="823.5" cy="117.3" r="4.6"/><circle cx="834.1" cy="109.8" r="5.6"/><circle cx="845.7" cy="115.2" r="5.6"/><rect x="819" y="114.5" width="32.3" height="7" rx="3"/></g>
<g fill="#2c5483" stroke="#2c5483" stroke-width="3"><circle cx="830.7" cy="119.6" r="4.4"/><circle cx="837.7" cy="115.2" r="4.6"/><circle cx="844.5" cy="119.6" r="4.4"/><rect x="826.3" y="118.8" width="22.6" height="7" rx="3"/></g>
<g fill="#ffffff"><circle cx="830.7" cy="119.6" r="4.4"/><circle cx="837.7" cy="115.2" r="4.6"/><circle cx="844.5" cy="119.6" r="4.4"/><rect x="826.3" y="118.8" width="22.6" height="7" rx="3"/></g>
<path d="M838.9 121.2a3.4 3.4 0 0 1 5 -1.4" fill="none" stroke="#2c5483" stroke-width="1.5" stroke-linecap="round"/>
<g fill="#2363c0" stroke="#2363c0" stroke-width="3"><circle cx="858.05" cy="117.3" r="4.6"/><circle cx="868.65" cy="109.8" r="5.6"/><circle cx="880.25" cy="115.2" r="5.6"/><rect x="853.55" y="114.5" width="32.3" height="7" rx="3"/></g>
<g fill="#d3d3d3"><circle cx="858.05" cy="117.3" r="4.6"/><circle cx="868.65" cy="109.8" r="5.6"/><circle cx="880.25" cy="115.2" r="5.6"/><rect x="853.55" y="114.5" width="32.3" height="7" rx="3"/></g>
<g fill="#2363c0" stroke="#2363c0" stroke-width="3"><circle cx="865.25" cy="119.6" r="4.4"/><circle cx="872.25" cy="115.2" r="4.6"/><circle cx="879.05" cy="119.6" r="4.4"/><rect x="860.85" y="118.8" width="22.6" height="7" rx="3"/></g>
<g fill="#ffffff"><circle cx="865.25" cy="119.6" r="4.4"/><circle cx="872.25" cy="115.2" r="4.6"/><circle cx="879.05" cy="119.6" r="4.4"/><rect x="860.85" y="118.8" width="22.6" height="7" rx="3"/></g>
<path d="M873.45 121.2a3.4 3.4 0 0 1 5 -1.4" fill="none" stroke="#2363c0" stroke-width="1.5" stroke-linecap="round"/>
<path d="M891.79 110.6L897.89 111.8M897.39 103.2L900.99 107.8M907.39 101.3L906.19 107.2M915.99 107.3L910.19 109.8M911.19 115.1L916.69 115.8" stroke="#f0b020" stroke-width="2.6" stroke-linecap="round"/>
<path d="M891.79 110.6L897.89 111.8M897.39 103.2L900.99 107.8M907.39 101.3L906.19 107.2M915.99 107.3L910.19 109.8M911.19 115.1L916.69 115.8" stroke="#f7e71a" stroke-width="1.7" stroke-linecap="round"/>
<path d="M897.29 115.8A7.1 7.1 0 0 1 911.49 115.8Z" fill="#f7e71a" stroke="#f0b020" stroke-width="0.6"/>
<path d="M887.29 117.1H921.89M887.79 121H921.89" stroke="#4f80c6" stroke-width="1.6"/>
<path d="M889.59 125.3H920.79" stroke="#4f80c6" stroke-width="2.6"/>
<path d="M891.59 119H894.59M900.59 119H908.59M901.59 123.2H903.59M909.59 123.2H912.09" stroke="#f7e71a" stroke-width="1" opacity="0.8"/>
<path d="M943.34 101.1A12.68 12.68 0 1 0 943.34 126.4A17.75 17.75 0 0 1 943.34 101.1Z" fill="#fcfcfc" stroke="#000" stroke-width="1.6" stroke-linejoin="round"/>
<path d="M921.84 115.2H956.44M921.84 119H956.44" stroke="#2f5a87" stroke-width="1.4"/>
<path d="M923.54 123.4H955.14" stroke="#2f5a87" stroke-width="2.3"/>
<path d="M973.89 100.8A12.57 12.57 0 1 0 973.89 125.7A15.76 15.76 0 0 1 973.89 100.8Z" fill="#fcfcfc" stroke="#000" stroke-width="1.6" stroke-linejoin="round"/>
<g fill="#2c5483" stroke="#2c5483" stroke-width="3"><circle cx="969.09" cy="119" r="4.1"/><circle cx="976.29" cy="114.9" r="5"/><circle cx="983.79" cy="119.6" r="4.4"/><rect x="964.99" y="118.3" width="23.2" height="7" rx="3"/></g>
<g fill="#d3d3d3"><circle cx="969.09" cy="119" r="4.1"/><circle cx="976.29" cy="114.9" r="5"/><circle cx="983.79" cy="119.6" r="4.4"/><rect x="964.99" y="118.3" width="23.2" height="7" rx="3"/></g>
<path d="M977.89 121a3.4 3.4 0 0 1 5 -1.4" fill="none" stroke="#2c5483" stroke-width="1.5" stroke-linecap="round"/>
<path d="M1004.13 103L1006.93 107.4M1014.13 101.1L1013.43 106.5M1021.63 107.4L1017.13 109.7M1023.13 116L1017.13 113.9M1018.23 123.4L1014.53 117.7M998.53 110.4L1004.63 111.5" stroke="#f0b020" stroke-width="2.6" stroke-linecap="round"/>
<path d="M1004.13 103L1006.93 107.4M1014.13 101.1L1013.43 106.5M1021.63 107.4L1017.13 109.7M1023.13 116L1017.13 113.9M1018.23 123.4L1014.53 117.7M998.53 110.4L1004.63 111.5" stroke="#f7e71a" stroke-width="1.7" stroke-linecap="round"/>
<circle cx="1011.13" cy="112.3" r="6.3" fill="#f7e71a" stroke="#f0b020" stroke-width="0.6"/>
<g fill="#2363c0" stroke="#2363c0" stroke-width="3"><circle cx="996.23" cy="121.3" r="4.1"/><circle cx="1002.63" cy="118.9" r="5"/><circle cx="1008.83" cy="121.8" r="4.2"/><rect x="992.23" y="119" width="20.8" height="7" rx="3"/></g>
<g fill="#d3d3d3"><circle cx="996.23" cy="121.3" r="4.1"/><circle cx="1002.63" cy="118.9" r="5"/><circle cx="1008.83" cy="121.8" r="4.2"/><rect x="992.23" y="119" width="20.8" height="7" rx="3"/></g>
<path d="M1004.43 122.6a3.6 3.6 0 0 1 5.2 -1.6" fill="none" stroke="#2363c0" stroke-width="1.5" stroke-linecap="round"/>
<path d="M1038.68 103L1041.48 107.4M1048.68 101.1L1047.98 106.5M1056.18 107.4L1051.68 109.7M1057.68 116L1051.68 113.9M1052.78 123.4L1049.08 117.7M1033.08 110.4L1039.18 111.5" stroke="#f0b020" stroke-width="2.6" stroke-linecap="round"/>
<path d="M1038.68 103L1041.48 107.4M1048.68 101.1L1047.98 106.5M1056.18 107.4L1051.68 109.7M1057.68 116L1051.68 113.9M1052.78 123.4L1049.08 117.7M1033.08 110.4L1039.18 111.5" stroke="#f7e71a" stroke-width="1.7" stroke-linecap="round"/>
<circle cx="1045.68" cy="112.3" r="6.3" fill="#f7e71a" stroke="#f0b020" stroke-width="0.6"/>
<g fill="#2363c0" stroke="#2363c0" stroke-width="3"><circle cx="1030.78" cy="121.3" r="4.1"/><circle cx="1037.18" cy="118.9" r="5"/><circle cx="1043.38" cy="121.8" r="4.2"/><rect x="1026.78" y="119" width="20.8" height="7" rx="3"/></g>
<g fill="#d3d3d3"><circle cx="1030.78" cy="121.3" r="4.1"/><circle cx="1037.18" cy="118.9" r="5"/><circle cx="1043.38" cy="121.8" r="4.2"/><rect x="1026.78" y="119" width="20.8" height="7" rx="3"/></g>
<path d="M1038.98 122.6a3.6 3.6 0 0 1 5.2 -1.6" fill="none" stroke="#2363c0" stroke-width="1.5" stroke-linecap="round"/>
<path d="M1077.53 100.8A12.57 12.57 0 1 0 1077.53 125.7A15.76 15.76 0 0 1 1077.53 100.8Z" fill="#fcfcfc" stroke="#000" stroke-width="1.6" stroke-linejoin="round"/>
<g fill="#2c5483" stroke="#2c5483" stroke-width="3"><circle cx="1072.73" cy="119" r="4.1"/><circle cx="1079.93" cy="114.9" r="5"/><circle cx="1087.43" cy="119.6" r="4.4"/><rect x="1068.63" y="118.3" width="23.2" height="7" rx="3"/></g>
<g fill="#d3d3d3"><circle cx="1072.73" cy="119" r="4.1"/><circle cx="1079.93" cy="114.9" r="5"/><circle cx="1087.43" cy="119.6" r="4.4"/><rect x="1068.63" y="118.3" width="23.2" height="7" rx="3"/></g>
<path d="M1081.53 121a3.4 3.4 0 0 1 5 -1.4" fill="none" stroke="#2c5483" stroke-width="1.5" stroke-linecap="round"/>
<text x="195.69" y="68.4" text-anchor="middle" style="font-family:'DejaVu Sans',sans-serif;font-size:17.6px" fill="#000">petek</text>
<text x="195.69" y="89.7" text-anchor="middle" style="font-family:'DejaVu Sans',sans-serif;font-size:17.6px" fill="#000">12.12</text>
<text x="333.88" y="68.4" text-anchor="middle" style="font-family:'DejaVu Sans',sans-serif;font-size:17.6px" fill="#d00000">sobota</text>
<text x="333.88" y="89.7" text-anchor="middle" style="font-family:'DejaVu Sans',sans-serif;font-size:17.6px" fill="#d00000">13.12</text>
<text x="472.06" y="68.4" text-anchor="middle" style="font-family:'DejaVu Sans',sans-serif;font-size:17.6px" fill="#d00000">nedelja</text>
<text x="472.06" y="89.7" text-anchor="middle" style="font-family:'DejaVu Sans',sans-serif;font-size:17.6px" fill="#d00000">14.12</text>
<text x="610.25" y="68.4" text-anchor="middle" style="font-family:'DejaVu Sans',sans-serif;font-size:17.6px" fill="#000">ponedeljek</text>
<text x="610.25" y="89.7" text-anchor="middle" style="font-family:'DejaVu Sans',sans-serif;font-size:17.6px" fill="#000">15.12</text>
<text x="748.44" y="68.4" text-anchor="middle" style="font-family:'DejaVu Sans',sans-serif;font-size:17.6px" fill="#000">torek</text>
<text x="748.44" y="89.7" text-anchor="middle" style="font-family:'DejaVu Sans',sans-serif;font-size:17.6px" fill="#000">16.12</text>
<text x="886.62" y="68.4" text-anchor="middle" style="font-family:'DejaVu Sans',sans-serif;font-size:17.6px" fill="#000">sreda</text>
<text x="886.62" y="89.7" text-anchor="middle" style="font-family:'DejaVu Sans',sans-serif;font-size:17.6px" fill="#000">17.12</text>
<text x="1024.81" y="68.4" text-anchor="middle" style="font-family:'DejaVu Sans',sans-serif;font-size:17.6px" fill="#000">četrtek</text>
<text x="1024.81" y="89.7" text-anchor="middle" style="font-family:'DejaVu Sans',sans-serif;font-size:17.6px" fill="#000">18.12</text>
<text x="122.6" y="178.9" text-anchor="end" style="font-family:'DejaVu Sans',sans-serif;font-size:17.6px">5</text>
<text x="122.6" y="215.9" text-anchor="end" style="font-family:'DejaVu Sans',sans-serif;font-size:17.6px">4</text>
<text x="122.6" y="253.9" text-anchor="end" style="font-family:'DejaVu Sans',sans-serif;font-size:17.6px">3</text>
<text x="122.6" y="290.9" text-anchor="end" style="font-family:'DejaVu Sans',sans-serif;font-size:17.6px">2</text>
<text x="122.6" y="327.9" text-anchor="end" style="font-family:'DejaVu Sans',sans-serif;font-size:17.6px">1</text>
<text x="122.6" y="365.5" text-anchor="end" style="font-family:'DejaVu Sans',sans-serif;font-size:17.6px">0</text>
<text x="1099" y="178.9" style="font-family:'DejaVu Sans',sans-serif;font-size:17.6px">14</text>
<text x="1099" y="215.9" style="font-family:'DejaVu Sans',sans-serif;font-size:17.6px">9.0</text>
<text x="1099" y="253.9" style="font-family:'DejaVu Sans',sans-serif;font-size:17.6px">6.0</text>
<text x="1099" y="290.9" style="font-family:'DejaVu Sans',sans-serif;font-size:17.6px">3.5</text>
<text x="1099" y="327.9" style="font-family:'DejaVu Sans',sans-serif;font-size:17.6px">1.5</text>
<text x="1099" y="365.5" style="font-family:'DejaVu Sans',sans-serif;font-size:17.6px">0</text>
<text x="46.5" y="178.85" style="font-family:'DejaVu Sans',sans-serif;font-size:17.6px" fill="#ff0000">14</text>
<text x="46.5" y="216.1" style="font-family:'DejaVu Sans',sans-serif;font-size:17.6px" fill="#ff0000">10</text>
<text x="46.5" y="253.35" style="font-family:'DejaVu Sans',sans-serif;font-size:17.6px" fill="#ff0000">6</text>
<text x="46.5" y="290.6" style="font-family:'DejaVu Sans',sans-serif;font-size:17.6px" fill="#ff0000">2</text>
<text x="46.5" y="327.85" style="font-family:'DejaVu Sans',sans-serif;font-size:17.6px" fill="#ff0000">-2</text>
<text x="46.5" y="365.1" style="font-family:'DejaVu Sans',sans-serif;font-size:17.6px" fill="#ff0000">-6</text>
<text transform="translate(35,348.4) rotate(-90)" style="font-family:'DejaVu Sans',sans-serif;font-size:19.05px" fill="#ff0000">Temperatura (°C)</text>
<text transform="translate(100,345.3) rotate(-90)" style="font-family:'DejaVu Sans',sans-serif;font-size:19.2px" fill="#000">Padavine (mm/h)</text>
<text transform="translate(1145,348.3) rotate(-90)" style="font-family:'DejaVu Sans',sans-serif;font-size:19.2px" fill="#000">Višina oblakov (km)</text>
<text x="161.85" y="376.8" text-anchor="middle" style="font-family:'DejaVu Sans',sans-serif;font-size:16.6px">06</text>
<text x="196.39" y="376.8" text-anchor="middle" style="font-family:'DejaVu Sans',sans-serif;font-size:16.6px">12</text>
<text x="230.94" y="376.8" text-anchor="middle" style="font-family:'DejaVu Sans',sans-serif;font-size:16.6px">18</text>
<text x="265.49" y="376.8" text-anchor="middle" style="font-family:'DejaVu Sans',sans-serif;font-size:16.6px">sob</text>
<text x="300.03" y="376.8" text-anchor="middle" style="font-family:'DejaVu Sans',sans-serif;font-size:16.6px">06</text>
<text x="334.58" y="376.8" text-anchor="middle" style="font-family:'DejaVu Sans',sans-serif;font-size:16.6px">12</text>
<text x="369.12" y="376.8" text-anchor="middle" style="font-family:'DejaVu Sans',sans-serif;font-size:16.6px">18</text>
<text x="403.67" y="376.8" text-anchor="middle" style="font-family:'DejaVu Sans',sans-serif;font-size:16.6px">ned</text>
<text x="438.22" y="376.8" text-anchor="middle" style="font-family:'DejaVu Sans',sans-serif;font-size:16.6px">06</text>
<text x="472.76" y="376.8" text-anchor="middle" style="font-family:'DejaVu Sans',sans-serif;font-size:16.6px">12</text>
<text x="507.31" y="376.8" text-anchor="middle" style="font-family:'DejaVu Sans',sans-serif;font-size:16.6px">18</text>
<text x="541.86" y="376.8" text-anchor="middle" style="font-family:'DejaVu Sans',sans-serif;font-size:16.6px">pon</text>
<text x="576.4" y="376.8" text-anchor="middle" style="font-family:'DejaVu Sans',sans-serif;font-size:16.6px">06</text>
<text x="610.95" y="376.8" text-anchor="middle" style="font-family:'DejaVu Sans',sans-serif;font-size:16.6px">12</text>
<text x="645.5" y="376.8" text-anchor="middle" style="font-family:'DejaVu Sans',sans-serif;font-size:16.6px">18</text>
<text x="680.04" y="376.8" text-anchor="middle" style="font-family:'DejaVu Sans',sans-serif;font-size:16.6px">tor</text>
<text x="714.59" y="376.8" text-anchor="middle" style="font-family:'DejaVu Sans',sans-serif;font-size:16.6px">06</text>
<text x="749.14" y="376.8" text-anchor="middle" style="font-family:'DejaVu Sans',sans-serif;font-size:16.6px">12</text>
<text x="783.68" y="376.8" text-anchor="middle" style="font-family:'DejaVu Sans',sans-serif;font-size:16.6px">18</text>
<text x="818.23" y="376.8" text-anchor="middle" style="font-family:'DejaVu Sans',sans-serif;font-size:16.6px">sre</text>
<text x="852.77" y="376.8" text-anchor="middle" style="font-family:'DejaVu Sans',sans-serif;font-size:16.6px">06</text>
<text x="887.32" y="376.8" text-anchor="middle" style="font-family:'DejaVu Sans',sans-serif;font-size:16.6px">12</text>
<text x="921.87" y="376.8" text-anchor="middle" style="font-family:'DejaVu Sans',sans-serif;font-size:16.6px">18</text>
<text x="956.41" y="376.8" text-anchor="middle" style="font-family:'DejaVu Sans',sans-serif;font-size:16.6px">čet</text>
<text x="990.96" y="376.8" text-anchor="middle" style="font-family:'DejaVu Sans',sans-serif;font-size:16.6px">06</text>
<text x="1025.51" y="376.8" text-anchor="middle" style="font-family:'DejaVu Sans',sans-serif;font-size:16.6px">12</text>
<text x="1060.05" y="376.8" text-anchor="middle" style="font-family:'DejaVu Sans',sans-serif;font-size:16.6px">18</text>
<rect x="126.5" y="390.3" width="32.5" height="10.7" fill="#0050ff"/>
<rect x="165" y="386.2" width="105" height="19.5" fill="#ffffff"/>
<text x="169" y="401.8" style="font-family:'DejaVu Sans',sans-serif;font-size:17.6px">Dež</text>
<rect x="277.9" y="390.3" width="31.9" height="10.7" fill="#12d8c6"/>
<rect x="310.4" y="386.2" width="109.2" height="19.5" fill="#ffffff"/>
<text x="318.5" y="401.8" style="font-family:'DejaVu Sans',sans-serif;font-size:17.6px">Možnost ploh</text>
<rect x="758" y="386.5" width="182.7" height="19.2" fill="#ffffff"/>
<text x="759.5" y="402" style="font-family:'DejaVu Sans',sans-serif;font-size:17.35px">Gostota oblakov (%)</text>
<rect x="949.6" y="385.6" width="29.28" height="12.6" fill="#d4d5d4"/>
<rect x="978.58" y="385.6" width="29.28" height="12.6" fill="#afafaf"/>
<rect x="1007.56" y="385.6" width="29.28" height="12.6" fill="#8f8f8d"/>
<rect x="1036.54" y="385.6" width="29.28" height="12.6" fill="#717171"/>
<rect x="1065.52" y="385.6" width="29.28" height="12.6" fill="#575757"/>
<rect x="949.6" y="385.6" width="144.9" height="12.6" fill="none" stroke="#000" stroke-width="1"/>
<text x="949.6" y="414" text-anchor="middle" style="font-family:'DejaVu Sans',sans-serif;font-size:15.3px">10</text>
<text x="978.58" y="414" text-anchor="middle" style="font-family:'DejaVu Sans',sans-serif;font-size:15.3px">25</text>
<text x="1007.56" y="414" text-anchor="middle" style="font-family:'DejaVu Sans',sans-serif;font-size:15.3px">50</text>
<text x="1036.54" y="414" text-anchor="middle" style="font-family:'DejaVu Sans',sans-serif;font-size:15.3px">75</text>
<text x="1065.52" y="414" text-anchor="middle" style="font-family:'DejaVu Sans',sans-serif;font-size:15.3px">90</text>
<text x="1094.5" y="414" text-anchor="middle" style="font-family:'DejaVu Sans',sans-serif;font-size:15.3px">100</text>
<text x="8.9" y="21.5" style="font-family:'Liberation Sans',Arial,sans-serif;font-size:16px" fill="#0000ff">(kraj lahko izberete v meniju)</text>
<text x="398" y="37" style="font-family:'Liberation Sans',Arial,sans-serif;font-size:23.6px" fill="#0000ff">Ljubljana 7 dni</text>
<text x="1142" y="21.5" text-anchor="end" style="font-family:'Liberation Sans',Arial,sans-serif;font-size:15.9px" fill="#0000ff">Zadnja posodobitev: 12.12.2025 - 00:04</text>
<text x="500" y="402" style="font-family:'Liberation Sans',Arial,sans-serif;font-size:15.75px" fill="#0000ff">© vreme.us &amp; vreme.pro</text>
</svg>
</body></html>
